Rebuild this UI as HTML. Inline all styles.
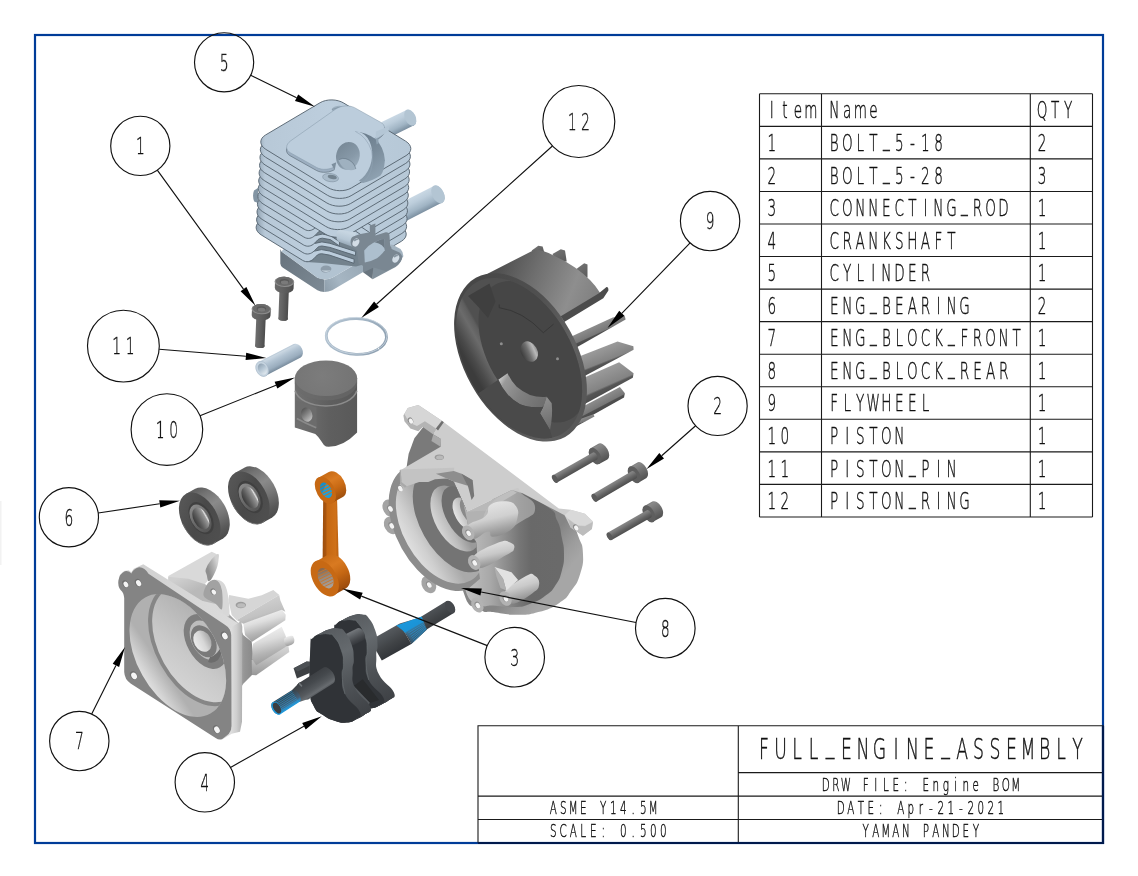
<!DOCTYPE html>
<html lang="en"><head><meta charset="utf-8"><title>FULL_ENGINE_ASSEMBLY - Engine BOM</title>
<style>
html,body{margin:0;padding:0;background:#fff;overflow:hidden}
svg{display:block;will-change:transform}
.t{filter:grayscale(1)}
.t text{font-family:'DejaVu Sans Light','DejaVu Sans','Liberation Sans',sans-serif;font-weight:200;fill:#111}
</style></head><body>
<svg width="1138" height="876" viewBox="0 0 1138 876">
<rect width="1138" height="876" fill="#fff"/>
<defs><linearGradient id="cyP1" gradientUnits="userSpaceOnUse" x1="396.2" y1="114.8" x2="403.8" y2="130.2"><stop offset="0" stop-color="#c9d8e4"/><stop offset="0.3" stop-color="#bccddb"/><stop offset="0.7" stop-color="#a0b4c4"/><stop offset="1" stop-color="#7b8fa0"/></linearGradient><linearGradient id="cyP2" gradientUnits="userSpaceOnUse" x1="418.7" y1="193.8" x2="427.1" y2="210.4"><stop offset="0" stop-color="#c9d8e4"/><stop offset="0.3" stop-color="#bccddb"/><stop offset="0.7" stop-color="#a0b4c4"/><stop offset="1" stop-color="#7b8fa0"/></linearGradient><linearGradient id="cyBL" gradientUnits="userSpaceOnUse" x1="280" y1="255" x2="325" y2="290"><stop offset="0" stop-color="#68747e"/><stop offset="1" stop-color="#7d8a95"/></linearGradient><linearGradient id="cyBR" gradientUnits="userSpaceOnUse" x1="325" y1="290" x2="362" y2="268"><stop offset="0" stop-color="#8f9fac"/><stop offset="0.4" stop-color="#a6b6c3"/><stop offset="1" stop-color="#9aaab7"/></linearGradient><linearGradient id="cyFin" gradientUnits="userSpaceOnUse" x1="260" y1="140" x2="410" y2="150"><stop offset="0" stop-color="#b7c8d7"/><stop offset="0.45" stop-color="#bdcedd"/><stop offset="1" stop-color="#b6c8d7"/></linearGradient><clipPath id="cyFinClip"><path d="M343.8 103.1L405.7 141.2C412.4 145.3 412.5 151.8 406.1 155.6L351.5 187.9C345.0 191.8 334.4 191.6 327.8 187.5L265.9 149.4C259.2 145.3 259.1 138.8 265.5 135.0L320.1 102.7C326.6 98.8 337.2 99.0 343.8 103.1Z" /><path d="M343.4 110.9L405.3 149.0C412.0 153.1 412.1 159.5 405.7 163.4L351.1 195.7C344.6 199.5 334.0 199.3 327.3 195.2L265.4 157.1C258.8 153.0 258.6 146.6 265.1 142.8L319.7 110.4C326.1 106.6 336.8 106.8 343.4 110.9Z" /><path d="M343.0 118.7L404.9 156.8C411.5 160.9 411.7 167.3 405.2 171.1L350.7 203.5C344.2 207.3 333.6 207.1 326.9 203.0L265.0 164.9C258.4 160.8 258.2 154.4 264.7 150.6L319.3 118.2C325.7 114.4 336.4 114.6 343.0 118.7Z" /><path d="M342.6 126.5L404.5 164.6C411.1 168.7 411.3 175.1 404.8 178.9L350.2 211.3C343.8 215.1 333.1 214.9 326.5 210.8L264.6 172.7C258.0 168.6 257.8 162.2 264.3 158.4L318.8 126.0C325.3 122.2 335.9 122.4 342.6 126.5Z" /><path d="M342.2 134.3L404.1 172.4C410.7 176.5 410.9 182.9 404.4 186.7L349.8 219.1C343.4 222.9 332.7 222.7 326.1 218.6L264.2 180.5C257.5 176.4 257.4 170.0 263.8 166.1L318.4 133.8C324.9 130.0 335.5 130.2 342.2 134.3Z" /><path d="M341.7 142.0L403.6 180.1C410.3 184.2 410.4 190.7 404.0 194.5L349.4 226.8C342.9 230.7 332.3 230.5 325.7 226.4L263.8 188.3C257.1 184.2 257.0 177.7 263.4 173.9L318.0 141.6C324.5 137.7 335.1 137.9 341.7 142.0Z" /><path d="M341.3 149.8L403.2 187.9C409.9 192.0 410.0 198.4 403.6 202.3L349.0 234.6C342.5 238.4 331.9 238.2 325.2 234.1L263.3 196.0C256.7 191.9 256.5 185.5 263.0 181.7L317.6 149.3C324.0 145.5 334.7 145.7 341.3 149.8Z" /><path d="M340.9 157.6L402.8 195.7C409.4 199.8 409.6 206.2 403.1 210.0L348.6 242.4C342.1 246.2 331.5 246.0 324.8 241.9L262.9 203.8C256.3 199.7 256.1 193.3 262.6 189.5L317.2 157.1C323.6 153.3 334.3 153.5 340.9 157.6Z" /><path d="M340.5 165.4L402.4 203.5C409.0 207.6 409.2 214.0 402.7 217.8L348.1 250.2C341.7 254.0 331.0 253.8 324.4 249.7L262.5 211.6C255.9 207.5 255.7 201.1 262.2 197.3L316.7 164.9C323.2 161.1 333.8 161.3 340.5 165.4Z" /><path d="M340.1 173.2L402.0 211.3C408.6 215.4 408.8 221.8 402.3 225.6L347.7 258.0C341.3 261.8 330.6 261.6 324.0 257.5L262.1 219.4C255.4 215.3 255.3 208.9 261.7 205.0L316.3 172.7C322.8 168.9 333.4 169.1 340.1 173.2Z" /><path d="M339.6 180.9L401.5 219.0C408.2 223.1 408.3 229.6 401.9 233.4L347.3 265.7C340.8 269.6 330.2 269.4 323.6 265.3L261.7 227.2C255.0 223.1 254.9 216.6 261.3 212.8L315.9 180.5C322.4 176.6 333.0 176.8 339.6 180.9Z" /><path d="M339.2 188.7L401.1 226.8C407.8 230.9 407.9 237.3 401.5 241.2L346.9 273.5C340.4 277.3 329.8 277.1 323.1 273.0L261.2 234.9C254.6 230.8 254.4 224.4 260.9 220.6L315.5 188.2C321.9 184.4 332.6 184.6 339.2 188.7Z" /></clipPath><linearGradient id="cyEdge" gradientUnits="userSpaceOnUse" x1="254" y1="0" x2="265" y2="0"><stop offset="0" stop-color="#5e7080" stop-opacity="0.55"/><stop offset="1" stop-color="#5e7080" stop-opacity="0"/></linearGradient><linearGradient id="cyTube" gradientUnits="userSpaceOnUse" x1="345" y1="232" x2="341" y2="246"><stop offset="0" stop-color="#c6d5e1"/><stop offset="0.5" stop-color="#b5c6d4"/><stop offset="1" stop-color="#8798a7"/></linearGradient><linearGradient id="cySh" gradientUnits="userSpaceOnUse" x1="355" y1="135" x2="385" y2="175"><stop offset="0" stop-color="#687a8a"/><stop offset="0.5" stop-color="#7a8c9b"/><stop offset="1" stop-color="#91a4b4"/></linearGradient><linearGradient id="cyHole" gradientUnits="userSpaceOnUse" x1="338" y1="145" x2="358" y2="170"><stop offset="0" stop-color="#778896"/><stop offset="0.55" stop-color="#8799a8"/><stop offset="1" stop-color="#a0b2c1"/></linearGradient><linearGradient id="fwB1" gradientUnits="userSpaceOnUse" x1="531.7" y1="250.5" x2="536.7" y2="257.5"><stop offset="0" stop-color="#6f6f6f"/><stop offset="1" stop-color="#5a5a5a"/></linearGradient><linearGradient id="fwB2" gradientUnits="userSpaceOnUse" x1="552.5" y1="254.0" x2="559.3" y2="265.8"><stop offset="0" stop-color="#6f6f6f"/><stop offset="1" stop-color="#5a5a5a"/></linearGradient><linearGradient id="fwB3" gradientUnits="userSpaceOnUse" x1="575.0" y1="270.0" x2="582.9" y2="280.8"><stop offset="0" stop-color="#6f6f6f"/><stop offset="1" stop-color="#5a5a5a"/></linearGradient><linearGradient id="fwB4" gradientUnits="userSpaceOnUse" x1="566.0" y1="339.0" x2="571.2" y2="350.4"><stop offset="0" stop-color="#8c8c8c"/><stop offset="0.62" stop-color="#777"/><stop offset="0.7" stop-color="#505050"/><stop offset="1" stop-color="#474747"/></linearGradient><linearGradient id="fwB5" gradientUnits="userSpaceOnUse" x1="574.0" y1="358.6" x2="581.6" y2="377.9"><stop offset="0" stop-color="#9a9a9a"/><stop offset="0.66" stop-color="#838383"/><stop offset="0.74" stop-color="#565656"/><stop offset="1" stop-color="#4b4b4b"/></linearGradient><linearGradient id="fwB6" gradientUnits="userSpaceOnUse" x1="580.0" y1="379.5" x2="589.9" y2="402.0"><stop offset="0" stop-color="#9a9a9a"/><stop offset="0.66" stop-color="#838383"/><stop offset="0.74" stop-color="#565656"/><stop offset="1" stop-color="#4b4b4b"/></linearGradient><linearGradient id="fwB7" gradientUnits="userSpaceOnUse" x1="582.0" y1="407.0" x2="587.8" y2="418.1"><stop offset="0" stop-color="#8c8c8c"/><stop offset="0.62" stop-color="#777"/><stop offset="0.7" stop-color="#505050"/><stop offset="1" stop-color="#474747"/></linearGradient><linearGradient id="fwB8" gradientUnits="userSpaceOnUse" x1="576.0" y1="420.5" x2="578.0" y2="426.1"><stop offset="0" stop-color="#8c8c8c"/><stop offset="0.62" stop-color="#777"/><stop offset="0.7" stop-color="#505050"/><stop offset="1" stop-color="#474747"/></linearGradient><linearGradient id="fwS" gradientUnits="userSpaceOnUse" x1="500" y1="262" x2="596" y2="300"><stop offset="0" stop-color="#4f4f4f"/><stop offset="0.35" stop-color="#6e6e6e"/><stop offset="0.75" stop-color="#8e8e8e"/><stop offset="1" stop-color="#808080"/></linearGradient><linearGradient id="fwRim" gradientUnits="userSpaceOnUse" x1="460" y1="340" x2="585" y2="375"><stop offset="0" stop-color="#474747"/><stop offset="0.5" stop-color="#505050"/><stop offset="0.85" stop-color="#626262"/><stop offset="1" stop-color="#585858"/></linearGradient><clipPath id="fwClip"><ellipse cx="519.1" cy="358.2" rx="53.2" ry="87.1" transform="rotate(-29.3 519.1 358.2)"/></clipPath><linearGradient id="fwWall" gradientUnits="userSpaceOnUse" x1="455.5" y1="341" x2="479.5" y2="327.5"><stop offset="0" stop-color="#3c3c3c"/><stop offset="0.25" stop-color="#4a4a4a"/><stop offset="0.7" stop-color="#6b6b6b"/><stop offset="0.92" stop-color="#5e5e5e"/><stop offset="1" stop-color="#505050"/></linearGradient><linearGradient id="fwLit" gradientUnits="userSpaceOnUse" x1="500" y1="378" x2="545" y2="405"><stop offset="0" stop-color="#c9c9c9"/><stop offset="0.12" stop-color="#9a9a9a"/><stop offset="0.5" stop-color="#808080"/><stop offset="1" stop-color="#6d6d6d"/></linearGradient><linearGradient id="fwV" gradientUnits="userSpaceOnUse" x1="541" y1="400" x2="553" y2="428"><stop offset="0" stop-color="#8f8f8f"/><stop offset="1" stop-color="#6a6a6a"/></linearGradient><linearGradient id="fwHole" gradientUnits="userSpaceOnUse" x1="521.5" y1="355" x2="537" y2="348"><stop offset="0" stop-color="#3a3a3a"/><stop offset="0.45" stop-color="#6f6f6f"/><stop offset="0.8" stop-color="#b9b9b9"/><stop offset="1" stop-color="#8a8a8a"/></linearGradient><linearGradient id="b1s1" gradientUnits="userSpaceOnUse" x1="278.9" y1="303.1" x2="288.3" y2="303.5"><stop offset="0" stop-color="#6e6e6e"/><stop offset="0.35" stop-color="#646464"/><stop offset="0.75" stop-color="#565656"/><stop offset="1" stop-color="#4c4c4c"/></linearGradient><linearGradient id="b1h1" gradientUnits="userSpaceOnUse" x1="274.9" y1="284.7" x2="293.7" y2="285.3"><stop offset="0" stop-color="#6a6a6a"/><stop offset="0.4" stop-color="#626262"/><stop offset="0.8" stop-color="#555"/><stop offset="1" stop-color="#4a4a4a"/></linearGradient><linearGradient id="b1s2" gradientUnits="userSpaceOnUse" x1="255.8" y1="330.4" x2="265.2" y2="330.8"><stop offset="0" stop-color="#6e6e6e"/><stop offset="0.35" stop-color="#646464"/><stop offset="0.75" stop-color="#565656"/><stop offset="1" stop-color="#4c4c4c"/></linearGradient><linearGradient id="b1h2" gradientUnits="userSpaceOnUse" x1="251.9" y1="311.9" x2="270.7" y2="312.7"><stop offset="0" stop-color="#6a6a6a"/><stop offset="0.4" stop-color="#626262"/><stop offset="0.8" stop-color="#555"/><stop offset="1" stop-color="#4a4a4a"/></linearGradient><linearGradient id="b2h3" gradientUnits="userSpaceOnUse" x1="603.5" y1="461.6" x2="594.5" y2="446.0"><stop offset="0" stop-color="#525252"/><stop offset="0.35" stop-color="#666"/><stop offset="0.7" stop-color="#7c7c7c"/><stop offset="0.92" stop-color="#8a8a8a"/><stop offset="1" stop-color="#7a7a7a"/></linearGradient><linearGradient id="b2s3" gradientUnits="userSpaceOnUse" x1="577.1" y1="471.1" x2="573.0" y2="463.9"><stop offset="0" stop-color="#4e4e4e"/><stop offset="0.4" stop-color="#636363"/><stop offset="0.8" stop-color="#7e7e7e"/><stop offset="1" stop-color="#868686"/></linearGradient><linearGradient id="b2h4" gradientUnits="userSpaceOnUse" x1="642.6" y1="480.2" x2="633.6" y2="464.6"><stop offset="0" stop-color="#525252"/><stop offset="0.35" stop-color="#666"/><stop offset="0.7" stop-color="#7c7c7c"/><stop offset="0.92" stop-color="#8a8a8a"/><stop offset="1" stop-color="#7a7a7a"/></linearGradient><linearGradient id="b2s4" gradientUnits="userSpaceOnUse" x1="616.5" y1="489.8" x2="612.3" y2="482.7"><stop offset="0" stop-color="#4e4e4e"/><stop offset="0.4" stop-color="#636363"/><stop offset="0.8" stop-color="#7e7e7e"/><stop offset="1" stop-color="#868686"/></linearGradient><linearGradient id="b2h5" gradientUnits="userSpaceOnUse" x1="657.4" y1="519.4" x2="648.4" y2="503.8"><stop offset="0" stop-color="#525252"/><stop offset="0.35" stop-color="#666"/><stop offset="0.7" stop-color="#7c7c7c"/><stop offset="0.92" stop-color="#8a8a8a"/><stop offset="1" stop-color="#7a7a7a"/></linearGradient><linearGradient id="b2s5" gradientUnits="userSpaceOnUse" x1="631.4" y1="528.7" x2="627.2" y2="521.5"><stop offset="0" stop-color="#4e4e4e"/><stop offset="0.4" stop-color="#636363"/><stop offset="0.8" stop-color="#7e7e7e"/><stop offset="1" stop-color="#868686"/></linearGradient><linearGradient id="prG" gradientUnits="userSpaceOnUse" x1="325" y1="318" x2="388" y2="356"><stop offset="0" stop-color="#b4c4d2"/><stop offset="0.5" stop-color="#a2b4c4"/><stop offset="1" stop-color="#8799aa"/></linearGradient><linearGradient id="ppG" gradientUnits="userSpaceOnUse" x1="283.2" y1="366.7" x2="276.2" y2="353.0"><stop offset="0" stop-color="#788b9c"/><stop offset="0.25" stop-color="#9aadbe"/><stop offset="0.65" stop-color="#b3c4d3"/><stop offset="0.9" stop-color="#cad7e2"/><stop offset="1" stop-color="#b8c8d6"/></linearGradient><linearGradient id="ppH" gradientUnits="userSpaceOnUse" x1="258" y1="364" x2="266" y2="374"><stop offset="0" stop-color="#8c9eae"/><stop offset="0.5" stop-color="#b4c5d3"/><stop offset="1" stop-color="#e2eaf0"/></linearGradient><linearGradient id="piB" gradientUnits="userSpaceOnUse" x1="294.8" y1="0" x2="357.1" y2="0"><stop offset="0" stop-color="#707070"/><stop offset="0.3" stop-color="#686868"/><stop offset="0.55" stop-color="#5f5f5f"/><stop offset="1" stop-color="#595959"/></linearGradient><linearGradient id="piH" gradientUnits="userSpaceOnUse" x1="301.5" y1="409" x2="312" y2="420"><stop offset="0" stop-color="#505050"/><stop offset="0.45" stop-color="#808080"/><stop offset="1" stop-color="#c4c4c4"/></linearGradient><radialGradient id="piT" gradientUnits="userSpaceOnUse" cx="322" cy="376" r="34" ><stop offset="0" stop-color="#7c7c7c"/><stop offset="1" stop-color="#747474"/></radialGradient><linearGradient id="brO2" gradientUnits="userSpaceOnUse" x1="234.9" y1="472.9" x2="262.7" y2="522.7"><stop offset="0" stop-color="#5e5e5e"/><stop offset="0.15" stop-color="#737373"/><stop offset="0.38" stop-color="#8a8a8a"/><stop offset="0.6" stop-color="#767676"/><stop offset="0.85" stop-color="#585858"/><stop offset="1" stop-color="#4c4c4c"/></linearGradient><linearGradient id="brF2" gradientUnits="userSpaceOnUse" x1="228.8" y1="489.8" x2="268.8" y2="505.8"><stop offset="0" stop-color="#555"/><stop offset="0.5" stop-color="#494949"/><stop offset="1" stop-color="#4e4e4e"/></linearGradient><linearGradient id="brI2" gradientUnits="userSpaceOnUse" x1="241.2" y1="485.0" x2="259.2" y2="509.0"><stop offset="0" stop-color="#8a8a8a"/><stop offset="0.5" stop-color="#6a6a6a"/><stop offset="1" stop-color="#555"/></linearGradient><linearGradient id="brB2" gradientUnits="userSpaceOnUse" x1="243.3" y1="500.9" x2="255.9" y2="493.8"><stop offset="0" stop-color="#383838"/><stop offset="0.35" stop-color="#5c5c5c"/><stop offset="0.62" stop-color="#7e7e7e"/><stop offset="0.82" stop-color="#9a9a9a"/><stop offset="0.9" stop-color="#e0e0e0"/><stop offset="1" stop-color="#8a8a8a"/></linearGradient><linearGradient id="brO1" gradientUnits="userSpaceOnUse" x1="185.8" y1="494.0" x2="213.6" y2="543.8"><stop offset="0" stop-color="#5e5e5e"/><stop offset="0.15" stop-color="#737373"/><stop offset="0.38" stop-color="#8a8a8a"/><stop offset="0.6" stop-color="#767676"/><stop offset="0.85" stop-color="#585858"/><stop offset="1" stop-color="#4c4c4c"/></linearGradient><linearGradient id="brF1" gradientUnits="userSpaceOnUse" x1="179.7" y1="510.9" x2="219.7" y2="526.9"><stop offset="0" stop-color="#555"/><stop offset="0.5" stop-color="#494949"/><stop offset="1" stop-color="#4e4e4e"/></linearGradient><linearGradient id="brI1" gradientUnits="userSpaceOnUse" x1="192.1" y1="506.1" x2="210.1" y2="530.1"><stop offset="0" stop-color="#8a8a8a"/><stop offset="0.5" stop-color="#6a6a6a"/><stop offset="1" stop-color="#555"/></linearGradient><linearGradient id="brB1" gradientUnits="userSpaceOnUse" x1="194.2" y1="522.0" x2="206.8" y2="514.9"><stop offset="0" stop-color="#383838"/><stop offset="0.35" stop-color="#5c5c5c"/><stop offset="0.62" stop-color="#7e7e7e"/><stop offset="0.82" stop-color="#9a9a9a"/><stop offset="0.9" stop-color="#e0e0e0"/><stop offset="1" stop-color="#8a8a8a"/></linearGradient><linearGradient id="ebRim" gradientUnits="userSpaceOnUse" x1="556.1499081123654" y1="531.518771331058" x2="582.4035179837227" y2="552.5216592281439"><stop offset="0" stop-color="#858585"/><stop offset="0.6" stop-color="#9c9c9c"/><stop offset="1" stop-color="#a6a6a6"/></linearGradient><linearGradient id="ebFa" gradientUnits="userSpaceOnUse" x1="461.63691257547913" y1="0" x2="577.1527960094513" y2="0"><stop offset="0" stop-color="#c4c4c4"/><stop offset="0.25" stop-color="#a8a8a8"/><stop offset="0.5" stop-color="#767676"/><stop offset="0.6" stop-color="#696969"/><stop offset="0.85" stop-color="#6a6a6a"/><stop offset="1" stop-color="#707070"/></linearGradient><clipPath id="ebClip"><path d="M390.8 469.8L401.3 469.8L414.4 471.1L435.4 473.8L453.8 481.6L464.3 505.3L466.9 511.8L467.4 521.5L469.0 531.5L476.1 542.0L477.9 563.0L480.0 578.8L461.6 594.5L438.0 599.8L380.3 594.5L380.3 473.8Z"/></clipPath><linearGradient id="ebW" gradientUnits="userSpaceOnUse" x1="396" y1="540" x2="432" y2="520"><stop offset="0" stop-color="#e9e9e9"/><stop offset="0.5" stop-color="#cfcfcf"/><stop offset="1" stop-color="#a9a9a9"/></linearGradient><linearGradient id="ebW2" gradientUnits="userSpaceOnUse" x1="428" y1="520" x2="452" y2="508"><stop offset="0" stop-color="#e2e2e2"/><stop offset="0.6" stop-color="#bdbdbd"/><stop offset="1" stop-color="#9a9a9a"/></linearGradient><linearGradient id="ebW3" gradientUnits="userSpaceOnUse" x1="450" y1="505" x2="466" y2="498"><stop offset="0" stop-color="#e6e6e6"/><stop offset="1" stop-color="#a2a2a2"/></linearGradient><linearGradient id="ebB1" gradientUnits="userSpaceOnUse" x1="490.51588343397214" y1="502.63980047256496" x2="498.39196639537937" y2="536.7694933053294"><stop offset="0" stop-color="#e4e4e4"/><stop offset="0.45" stop-color="#d0d0d0"/><stop offset="0.8" stop-color="#a2a2a2"/><stop offset="1" stop-color="#8c8c8c"/></linearGradient><linearGradient id="ebB2" gradientUnits="userSpaceOnUse" x1="490.51588343397214" y1="542.020215279601" x2="495.76660540824366" y2="565.6484641638225"><stop offset="0" stop-color="#e2e2e2"/><stop offset="0.5" stop-color="#c8c8c8"/><stop offset="1" stop-color="#8e8e8e"/></linearGradient><linearGradient id="ebB3" gradientUnits="userSpaceOnUse" x1="516.7694933053294" y1="573.5245471252297" x2="524.6455762667367" y2="599.7781569965871"><stop offset="0" stop-color="#e6e6e6"/><stop offset="0.5" stop-color="#cacaca"/><stop offset="1" stop-color="#909090"/></linearGradient><linearGradient id="efBell" gradientUnits="userSpaceOnUse" x1="238.33333333333331" y1="0" x2="255.0" y2="0"><stop offset="0" stop-color="#a6a6a6"/><stop offset="0.4" stop-color="#949494"/><stop offset="1" stop-color="#878787"/></linearGradient><linearGradient id="efLow" gradientUnits="userSpaceOnUse" x1="0" y1="645.0" x2="0" y2="675.0"><stop offset="0" stop-color="#d9d9d9"/><stop offset="0.5" stop-color="#bdbdbd"/><stop offset="1" stop-color="#989898"/></linearGradient><linearGradient id="efC2" gradientUnits="userSpaceOnUse" x1="265.0" y1="628.3333333333334" x2="273.3333333333333" y2="661.6666666666666"><stop offset="0" stop-color="#f2f2f2"/><stop offset="0.35" stop-color="#dcdcdc"/><stop offset="0.7" stop-color="#b4b4b4"/><stop offset="1" stop-color="#9a9a9a"/></linearGradient><linearGradient id="efPin" gradientUnits="userSpaceOnUse" x1="288.3333333333333" y1="635.8333333333334" x2="290.8333333333333" y2="645.0"><stop offset="0" stop-color="#f0f0f0"/><stop offset="0.5" stop-color="#d0d0d0"/><stop offset="1" stop-color="#a0a0a0"/></linearGradient><linearGradient id="efC1" gradientUnits="userSpaceOnUse" x1="261.6666666666667" y1="611.6666666666666" x2="269.1666666666667" y2="638.3333333333334"><stop offset="0" stop-color="#f4f4f4"/><stop offset="0.35" stop-color="#dedede"/><stop offset="0.7" stop-color="#b6b6b6"/><stop offset="1" stop-color="#9c9c9c"/></linearGradient><linearGradient id="efTop" gradientUnits="userSpaceOnUse" x1="258.3333333333333" y1="600.0" x2="265.0" y2="623.3333333333334"><stop offset="0" stop-color="#d0d0d0"/><stop offset="0.6" stop-color="#c2c2c2"/><stop offset="1" stop-color="#a8a8a8"/></linearGradient><linearGradient id="efCv" gradientUnits="userSpaceOnUse" x1="181.66666666666666" y1="576.6666666666666" x2="190.0" y2="593.3333333333334"><stop offset="0" stop-color="#cfcfcf"/><stop offset="1" stop-color="#b9b9b9"/></linearGradient><linearGradient id="efFin" gradientUnits="userSpaceOnUse" x1="207.5" y1="568.3333333333334" x2="218.0" y2="565.0"><stop offset="0" stop-color="#8f8f8f"/><stop offset="0.6" stop-color="#b5b5b5"/><stop offset="1" stop-color="#d2d2d2"/></linearGradient><linearGradient id="efTb" gradientUnits="userSpaceOnUse" x1="143.33333333333334" y1="565.0" x2="240.0" y2="625.0"><stop offset="0" stop-color="#d2d2d2"/><stop offset="1" stop-color="#dcdcdc"/></linearGradient><linearGradient id="efRb" gradientUnits="userSpaceOnUse" x1="230.83333333333331" y1="0" x2="242.0" y2="0"><stop offset="0" stop-color="#dedede"/><stop offset="0.5" stop-color="#cfcfcf"/><stop offset="1" stop-color="#b2b2b2"/></linearGradient><clipPath id="efClip"><path d="M142.39 675.37A40.61 65.50 -29.30 1 0 213.21 635.63A40.61 65.50 -29.30 1 0 142.39 675.37Z" /></clipPath><linearGradient id="efW" gradientUnits="userSpaceOnUse" x1="128" y1="668" x2="152" y2="652"><stop offset="0" stop-color="#ededed"/><stop offset="0.45" stop-color="#d4d4d4"/><stop offset="1" stop-color="#b0b0b0"/></linearGradient><linearGradient id="efCone" gradientUnits="userSpaceOnUse" x1="150" y1="700" x2="222" y2="610"><stop offset="0" stop-color="#dedede"/><stop offset="0.5" stop-color="#c9c9c9"/><stop offset="1" stop-color="#a9a9a9"/></linearGradient><linearGradient id="efBore" gradientUnits="userSpaceOnUse" x1="195" y1="645" x2="211" y2="637"><stop offset="0" stop-color="#ececec"/><stop offset="0.5" stop-color="#d6d6d6"/><stop offset="1" stop-color="#a0a0a0"/></linearGradient><linearGradient id="crS" gradientUnits="userSpaceOnUse" x1="322" y1="0" x2="339" y2="0"><stop offset="0" stop-color="#9a4c0c"/><stop offset="0.22" stop-color="#a9550f"/><stop offset="0.3" stop-color="#c56813"/><stop offset="0.8" stop-color="#cf7119"/><stop offset="1" stop-color="#b55d10"/></linearGradient><linearGradient id="crE1" gradientUnits="userSpaceOnUse" x1="323.8" y1="475.2" x2="337.5" y2="499.6"><stop offset="0" stop-color="#c96c16"/><stop offset="0.3" stop-color="#da7b22"/><stop offset="0.6" stop-color="#c96a14"/><stop offset="1" stop-color="#a0500d"/></linearGradient><clipPath id="crC1"><path d="M321.52 492.82A5.14 8.29 -29.30 1 0 330.48 487.78A5.14 8.29 -29.30 1 0 321.52 492.82Z" /></clipPath><linearGradient id="crE2" gradientUnits="userSpaceOnUse" x1="321.6" y1="558.4" x2="340.2" y2="591.5"><stop offset="0" stop-color="#c96c16"/><stop offset="0.3" stop-color="#d97a21"/><stop offset="0.6" stop-color="#c56713"/><stop offset="1" stop-color="#99490b"/></linearGradient><linearGradient id="crB2" gradientUnits="userSpaceOnUse" x1="321.6" y1="568.2" x2="329.6" y2="588.2"><stop offset="0" stop-color="#85654a"/><stop offset="0.45" stop-color="#958a80"/><stop offset="1" stop-color="#aaa39c"/></linearGradient><clipPath id="crC2"><path d="M319.64 581.54A6.83 11.02 -29.30 1 0 331.56 574.86A6.83 11.02 -29.30 1 0 319.64 581.54Z" /></clipPath><linearGradient id="ckR" gradientUnits="userSpaceOnUse" x1="407.2" y1="618.6" x2="419.0" y2="638.8"><stop offset="0" stop-color="#565a5e"/><stop offset="0.25" stop-color="#4d5155"/><stop offset="0.6" stop-color="#404346"/><stop offset="1" stop-color="#33363a"/></linearGradient><linearGradient id="ckBl" gradientUnits="userSpaceOnUse" x1="408.6" y1="618.4" x2="420.3" y2="638.7"><stop offset="0" stop-color="#1b98dc"/><stop offset="0.42" stop-color="#1b93d6"/><stop offset="0.5" stop-color="#3c6f90"/><stop offset="1" stop-color="#3a5468"/></linearGradient><linearGradient id="ckW2" gradientUnits="userSpaceOnUse" x1="352.3" y1="613.9" x2="393.4" y2="697.7"><stop offset="0" stop-color="#575b5f"/><stop offset="0.3" stop-color="#656a6e"/><stop offset="0.65" stop-color="#4e5256"/><stop offset="1" stop-color="#3f4246"/></linearGradient><path id="ckFace2" d="M334.2 631.9C334.9 618.7 333.8 627.6 336.3 624.5C338.8 621.4 339.1 621.5 343.4 620.3C347.7 619.1 348.4 619.1 352.3 619.9C356.2 620.7 354.8 619.0 358.2 623.3C361.6 627.6 362.5 628.7 364.9 635.9C367.3 643.1 366.8 643.2 367.1 650.2C367.4 657.2 365.5 654.2 365.9 662.1C366.3 670.0 363.9 670.4 368.6 679.9C373.3 689.4 380.6 691.0 383.4 697.7C386.2 704.4 382.5 702.2 379.0 705.1C375.5 708.0 375.6 708.0 370.1 708.4C364.6 708.8 364.5 708.7 358.2 706.6C351.9 704.5 351.8 704.6 346.3 700.7C340.8 696.8 340.8 698.9 337.4 691.8C334.0 684.7 334.6 690.0 333.7 674.0C332.8 658.0 333.5 645.1 334.2 631.9Z"/><linearGradient id="ckP" gradientUnits="userSpaceOnUse" x1="348.7" y1="632.7" x2="354.7" y2="644.6"><stop offset="0" stop-color="#74787c"/><stop offset="0.3" stop-color="#5f6367"/><stop offset="0.7" stop-color="#45484c"/><stop offset="1" stop-color="#35383c"/></linearGradient><linearGradient id="ckW1" gradientUnits="userSpaceOnUse" x1="328.6" y1="628.0" x2="369.7" y2="711.8"><stop offset="0" stop-color="#575b5f"/><stop offset="0.3" stop-color="#656a6e"/><stop offset="0.65" stop-color="#4e5256"/><stop offset="1" stop-color="#3f4246"/></linearGradient><path id="ckFace1" d="M310.5 646.0C311.2 632.8 310.1 641.7 312.6 638.6C315.1 635.5 315.4 635.6 319.7 634.4C324.0 633.2 324.7 633.2 328.6 634.0C332.5 634.8 331.1 633.1 334.5 637.4C337.9 641.7 338.8 642.8 341.2 650.0C343.6 657.2 343.1 657.3 343.4 664.3C343.7 671.3 341.8 668.3 342.2 676.2C342.6 684.1 340.2 684.5 344.9 694.0C349.6 703.5 356.9 705.1 359.7 711.8C362.5 718.5 358.8 716.3 355.3 719.2C351.8 722.1 351.9 722.1 346.4 722.5C340.9 722.9 340.8 722.8 334.5 720.7C328.2 718.6 328.1 718.7 322.6 714.8C317.1 710.9 317.1 713.0 313.7 705.9C310.3 698.8 310.9 704.1 310.0 688.1C309.1 672.1 309.8 659.2 310.5 646.0Z"/><linearGradient id="ckJ" gradientUnits="userSpaceOnUse" x1="297.3" y1="684.0" x2="307.3" y2="699.8"><stop offset="0" stop-color="#3d4044"/><stop offset="0.35" stop-color="#45494d"/><stop offset="0.7" stop-color="#565a5e"/><stop offset="0.9" stop-color="#686c70"/><stop offset="1" stop-color="#575b5f"/></linearGradient><linearGradient id="ckSp" gradientUnits="userSpaceOnUse" x1="282.2" y1="696.2" x2="289.8" y2="708.2"><stop offset="0" stop-color="#33414c"/><stop offset="0.3" stop-color="#3c4d5a"/><stop offset="0.7" stop-color="#45617a"/><stop offset="0.9" stop-color="#2c8fc9"/><stop offset="1" stop-color="#1c9ade"/></linearGradient></defs>
<rect x="0" y="501" width="1.5" height="64" fill="#f2f2f2"/>
<rect x="35" y="35" width="1068" height="808" fill="none" stroke="#003c98" stroke-width="2.2"/>
<path d="M759.5 93.80H1092.5 M759.5 126.35H1092.5 M759.5 158.90H1092.5 M759.5 191.45H1092.5 M759.5 224.00H1092.5 M759.5 256.55H1092.5 M759.5 289.10H1092.5 M759.5 321.65H1092.5 M759.5 354.20H1092.5 M759.5 386.75H1092.5 M759.5 419.30H1092.5 M759.5 451.85H1092.5 M759.5 484.40H1092.5 M759.5 516.95H1092.5 M759.5 93.8V516.95 M821.5 93.8V516.95 M1030.3 93.8V516.95 M1092.5 93.8V516.95" fill="none" stroke="#1a1a1a" stroke-width="1.1"/>
<g class="t">
<text transform="scale(0.6,1)" x="1286.36 1308.07 1329.79 1351.51" y="118.50" dy="0.00 0.00 0.00 0.00" font-size="22.63" text-anchor="middle" stroke="#111" stroke-width="0.4">Item</text>
<text transform="scale(0.6,1)" x="1390.36 1412.08 1433.79 1455.51" y="118.50" dy="0.00 0.00 0.00 0.00" font-size="22.63" text-anchor="middle" stroke="#111" stroke-width="0.4">Name</text>
<text transform="scale(0.6,1)" x="1736.86 1758.58 1780.29" y="118.50" dy="0.00 0.00 0.00" font-size="22.63" text-anchor="middle" stroke="#111" stroke-width="0.4">QTY</text>
<text transform="scale(0.6,1)" x="1286.36" y="151.05" dy="0.00" font-size="22.63" text-anchor="middle" stroke="#111" stroke-width="0.4">1</text>
<text transform="scale(0.6,1)" x="1390.36 1412.08 1433.79 1455.51 1477.23 1498.94 1520.66 1542.38 1564.09" y="151.05" dy="0.00 0.00 0.00 0.00 -5.94 5.94 0.00 0.00 0.00" font-size="22.63" text-anchor="middle" stroke="#111" stroke-width="0.4">BOLT_5-18</text>
<text transform="scale(0.6,1)" x="1736.86" y="151.05" dy="0.00" font-size="22.63" text-anchor="middle" stroke="#111" stroke-width="0.4">2</text>
<text transform="scale(0.6,1)" x="1286.36" y="183.60" dy="0.00" font-size="22.63" text-anchor="middle" stroke="#111" stroke-width="0.4">2</text>
<text transform="scale(0.6,1)" x="1390.36 1412.08 1433.79 1455.51 1477.23 1498.94 1520.66 1542.38 1564.09" y="183.60" dy="0.00 0.00 0.00 0.00 -5.94 5.94 0.00 0.00 0.00" font-size="22.63" text-anchor="middle" stroke="#111" stroke-width="0.4">BOLT_5-28</text>
<text transform="scale(0.6,1)" x="1736.86" y="183.60" dy="0.00" font-size="22.63" text-anchor="middle" stroke="#111" stroke-width="0.4">3</text>
<text transform="scale(0.6,1)" x="1286.36" y="216.15" dy="0.00" font-size="22.63" text-anchor="middle" stroke="#111" stroke-width="0.4">3</text>
<text transform="scale(0.6,1)" x="1390.36 1412.08 1433.79 1455.51 1477.23 1498.94 1520.66 1542.38 1564.09 1585.81 1607.53 1629.24 1650.96 1672.68" y="216.15" dy="0.00 0.00 0.00 0.00 0.00 0.00 0.00 0.00 0.00 0.00 -5.94 5.94 0.00 0.00" font-size="22.63" text-anchor="middle" stroke="#111" stroke-width="0.4">CONNECTING_ROD</text>
<text transform="scale(0.6,1)" x="1736.86" y="216.15" dy="0.00" font-size="22.63" text-anchor="middle" stroke="#111" stroke-width="0.4">1</text>
<text transform="scale(0.6,1)" x="1286.36" y="248.70" dy="0.00" font-size="22.63" text-anchor="middle" stroke="#111" stroke-width="0.4">4</text>
<text transform="scale(0.6,1)" x="1390.36 1412.08 1433.79 1455.51 1477.23 1498.94 1520.66 1542.38 1564.09 1585.81" y="248.70" dy="0.00 0.00 0.00 0.00 0.00 0.00 0.00 0.00 0.00 0.00" font-size="22.63" text-anchor="middle" stroke="#111" stroke-width="0.4">CRANKSHAFT</text>
<text transform="scale(0.6,1)" x="1736.86" y="248.70" dy="0.00" font-size="22.63" text-anchor="middle" stroke="#111" stroke-width="0.4">1</text>
<text transform="scale(0.6,1)" x="1286.36" y="281.25" dy="0.00" font-size="22.63" text-anchor="middle" stroke="#111" stroke-width="0.4">5</text>
<text transform="scale(0.6,1)" x="1390.36 1412.08 1433.79 1455.51 1477.23 1498.94 1520.66 1542.38" y="281.25" dy="0.00 0.00 0.00 0.00 0.00 0.00 0.00 0.00" font-size="22.63" text-anchor="middle" stroke="#111" stroke-width="0.4">CYLINDER</text>
<text transform="scale(0.6,1)" x="1736.86" y="281.25" dy="0.00" font-size="22.63" text-anchor="middle" stroke="#111" stroke-width="0.4">1</text>
<text transform="scale(0.6,1)" x="1286.36" y="313.80" dy="0.00" font-size="22.63" text-anchor="middle" stroke="#111" stroke-width="0.4">6</text>
<text transform="scale(0.6,1)" x="1390.36 1412.08 1433.79 1455.51 1477.23 1498.94 1520.66 1542.38 1564.09 1585.81 1607.53" y="313.80" dy="0.00 0.00 0.00 -5.94 5.94 0.00 0.00 0.00 0.00 0.00 0.00" font-size="22.63" text-anchor="middle" stroke="#111" stroke-width="0.4">ENG_BEARING</text>
<text transform="scale(0.6,1)" x="1736.86" y="313.80" dy="0.00" font-size="22.63" text-anchor="middle" stroke="#111" stroke-width="0.4">2</text>
<text transform="scale(0.6,1)" x="1286.36" y="346.35" dy="0.00" font-size="22.63" text-anchor="middle" stroke="#111" stroke-width="0.4">7</text>
<text transform="scale(0.6,1)" x="1390.36 1412.08 1433.79 1455.51 1477.23 1498.94 1520.66 1542.38 1564.09 1585.81 1607.53 1629.24 1650.96 1672.68 1694.39" y="346.35" dy="0.00 0.00 0.00 -5.94 5.94 0.00 0.00 0.00 0.00 -5.94 5.94 0.00 0.00 0.00 0.00" font-size="22.63" text-anchor="middle" stroke="#111" stroke-width="0.4">ENG_BLOCK_FRONT</text>
<text transform="scale(0.6,1)" x="1736.86" y="346.35" dy="0.00" font-size="22.63" text-anchor="middle" stroke="#111" stroke-width="0.4">1</text>
<text transform="scale(0.6,1)" x="1286.36" y="378.90" dy="0.00" font-size="22.63" text-anchor="middle" stroke="#111" stroke-width="0.4">8</text>
<text transform="scale(0.6,1)" x="1390.36 1412.08 1433.79 1455.51 1477.23 1498.94 1520.66 1542.38 1564.09 1585.81 1607.53 1629.24 1650.96 1672.68" y="378.90" dy="0.00 0.00 0.00 -5.94 5.94 0.00 0.00 0.00 0.00 -5.94 5.94 0.00 0.00 0.00" font-size="22.63" text-anchor="middle" stroke="#111" stroke-width="0.4">ENG_BLOCK_REAR</text>
<text transform="scale(0.6,1)" x="1736.86" y="378.90" dy="0.00" font-size="22.63" text-anchor="middle" stroke="#111" stroke-width="0.4">1</text>
<text transform="scale(0.6,1)" x="1286.36" y="411.45" dy="0.00" font-size="22.63" text-anchor="middle" stroke="#111" stroke-width="0.4">9</text>
<text transform="scale(0.6,1)" x="1390.36 1412.08 1433.79 1455.51 1477.23 1498.94 1520.66 1542.38" y="411.45" dy="0.00 0.00 0.00 0.00 0.00 0.00 0.00 0.00" font-size="22.63" text-anchor="middle" stroke="#111" stroke-width="0.4">FLYWHEEL</text>
<text transform="scale(0.6,1)" x="1736.86" y="411.45" dy="0.00" font-size="22.63" text-anchor="middle" stroke="#111" stroke-width="0.4">1</text>
<text transform="scale(0.6,1)" x="1286.36 1308.07" y="444.00" dy="0.00 0.00" font-size="22.63" text-anchor="middle" stroke="#111" stroke-width="0.4">10</text>
<text transform="scale(0.6,1)" x="1390.36 1412.08 1433.79 1455.51 1477.23 1498.94" y="444.00" dy="0.00 0.00 0.00 0.00 0.00 0.00" font-size="22.63" text-anchor="middle" stroke="#111" stroke-width="0.4">PISTON</text>
<text transform="scale(0.6,1)" x="1736.86" y="444.00" dy="0.00" font-size="22.63" text-anchor="middle" stroke="#111" stroke-width="0.4">1</text>
<text transform="scale(0.6,1)" x="1286.36 1308.07" y="476.55" dy="0.00 0.00" font-size="22.63" text-anchor="middle" stroke="#111" stroke-width="0.4">11</text>
<text transform="scale(0.6,1)" x="1390.36 1412.08 1433.79 1455.51 1477.23 1498.94 1520.66 1542.38 1564.09 1585.81" y="476.55" dy="0.00 0.00 0.00 0.00 0.00 0.00 -5.94 5.94 0.00 0.00" font-size="22.63" text-anchor="middle" stroke="#111" stroke-width="0.4">PISTON_PIN</text>
<text transform="scale(0.6,1)" x="1736.86" y="476.55" dy="0.00" font-size="22.63" text-anchor="middle" stroke="#111" stroke-width="0.4">1</text>
<text transform="scale(0.6,1)" x="1286.36 1308.07" y="509.10" dy="0.00 0.00" font-size="22.63" text-anchor="middle" stroke="#111" stroke-width="0.4">12</text>
<text transform="scale(0.6,1)" x="1390.36 1412.08 1433.79 1455.51 1477.23 1498.94 1520.66 1542.38 1564.09 1585.81 1607.53" y="509.10" dy="0.00 0.00 0.00 0.00 0.00 0.00 -5.94 5.94 0.00 0.00 0.00" font-size="22.63" text-anchor="middle" stroke="#111" stroke-width="0.4">PISTON_RING</text>
<text transform="scale(0.6,1)" x="1736.86" y="509.10" dy="0.00" font-size="22.63" text-anchor="middle" stroke="#111" stroke-width="0.4">1</text>
</g>
<path d="M478 842.8V725.7H1103V842.8 M738.3 725.7V842.8 M738.3 772.6H1103 M478 796.1H1103 M478 819.5H1103" fill="none" stroke="#1a1a1a" stroke-width="1.1"/>
<path d="M478 843H1103V725.7" fill="none" stroke="#001a4d" stroke-width="2.2"/>
<g class="t">
<text transform="scale(0.6,1)" x="1273.42 1300.92 1328.42 1355.92 1383.42 1410.92 1438.42 1465.92 1493.42 1520.92 1548.42 1575.92 1603.42 1630.92 1658.42 1685.92 1713.42 1740.92 1768.42 1795.92" y="759.40" dy="0.00 0.00 0.00 0.00 -7.56 7.56 0.00 0.00 0.00 0.00 0.00 -7.56 7.56 0.00 0.00 0.00 0.00 0.00 0.00 0.00" font-size="28.81" text-anchor="middle" stroke="#111" stroke-width="0.45">FULL_ENGINE_ASSEMBLY</text>
<text transform="scale(0.6,1)" x="1376.33 1393.00 1409.67 1426.33 1443.00 1459.67 1476.33 1493.00 1509.67 1526.33 1543.00 1559.67 1576.33 1593.00 1609.67 1626.33 1643.00 1659.67 1676.33 1693.00" y="790.60" dy="0.00 0.00 0.00 0.00 0.00 0.00 0.00 0.00 0.00 0.00 0.00 0.00 0.00 0.00 0.00 0.00 0.00 0.00 0.00 0.00" font-size="17.28" text-anchor="middle" stroke="#111" stroke-width="0.45">DRW FILE: Engine BOM</text>
<text transform="scale(0.6,1)" x="1401.33 1418.00 1434.67 1451.33 1468.00 1484.67 1501.33 1518.00 1534.67 1551.33 1568.00 1584.67 1601.33 1618.00 1634.67 1651.33 1668.00" y="814.10" dy="0.00 0.00 0.00 0.00 0.00 0.00 0.00 0.00 0.00 0.00 0.00 0.00 0.00 0.00 0.00 0.00 0.00" font-size="17.28" text-anchor="middle" stroke="#111" stroke-width="0.45">DATE: Apr-21-2021</text>
<text transform="scale(0.6,1)" x="1443.00 1459.67 1476.33 1493.00 1509.67 1526.33 1543.00 1559.67 1576.33 1593.00 1609.67 1626.33" y="837.40" dy="0.00 0.00 0.00 0.00 0.00 0.00 0.00 0.00 0.00 0.00 0.00 0.00" font-size="17.28" text-anchor="middle" stroke="#111" stroke-width="0.45">YAMAN PANDEY</text>
<text transform="scale(0.6,1)" x="922.00 938.67 955.33 972.00 988.67 1005.33 1022.00 1038.67 1055.33 1072.00 1088.67" y="814.10" dy="0.00 0.00 0.00 0.00 0.00 0.00 0.00 0.00 0.00 0.00 0.00" font-size="17.28" text-anchor="middle" stroke="#111" stroke-width="0.45">ASME Y14.5M</text>
<text transform="scale(0.6,1)" x="922.00 938.67 955.33 972.00 988.67 1005.33 1022.00 1038.67 1055.33 1072.00 1088.67 1105.33" y="837.40" dy="0.00 0.00 0.00 0.00 0.00 0.00 0.00 0.00 0.00 0.00 0.00 0.00" font-size="17.28" text-anchor="middle" stroke="#111" stroke-width="0.45">SCALE: 0.500</text>
</g>
<path d="M389.8 137.2L414.1 125.3A5.3 8.6 -26.1 0 0 406.5 109.9L382.2 121.8A5.3 8.6 -26.1 0 0 389.8 137.2Z" fill="url(#cyP1)"/><path d="M405.51 119.95A5.33 8.60 -26.09 1 0 415.09 115.25A5.33 8.60 -26.09 1 0 405.51 119.95Z" fill="#b3c5d3"/><path d="M406.2 220.9L442.2 202.6A5.8 9.3 -26.9 0 0 433.8 186.0L397.8 204.3A5.8 9.3 -26.9 0 0 406.2 220.9Z" fill="url(#cyP2)"/><path d="M432.86 196.91A5.77 9.30 -26.95 1 0 443.14 191.69A5.77 9.30 -26.95 1 0 432.86 196.91Z" fill="#b3c5d3"/><path d="M258 188 L254 190.5 Q252 196 254.2 201.5 L258 203Z" fill="#8395a4"/><path d="M280.3 249 L280.3 263.4 Q280.6 266 282.6 267.4 L317.4 290.2 Q320.5 291.8 324.3 292 L324.3 279.4 L317.4 277.7 L281.4 251.4Z" fill="url(#cyBL)"/><path d="M324.3 279.4 L324.3 292 Q328.5 292 332.2 290.2 L364 271.5 L364 258 L352.8 265.7 L332.2 277.7 Q328 279.6 324.3 279.4Z" fill="url(#cyBR)"/><path d="M281.4 251.4 L317.4 277.7 Q324.3 281 332.2 277.7 L352.8 265.7 L366 256 L350 236 L296 236Z" fill="#b2c3d1"/><path d="M320.61 269.38A5.40 3.40 -3.00 1 0 331.39 268.82A5.40 3.40 -3.00 1 0 320.61 269.38Z" fill="#8d9ca9"/><path d="M321.2 270.2 Q326 273.6 331 270.2 Q326 271.0 321.2 270.2Z" fill="#c6d3de"/><path d="M298 226 L372 222 L372 262 L356 266.5 L322 263 L306 262Z" fill="#73828d"/><path d="M288.2 204.4L260.9 220.6C254.4 224.4 254.6 230.8 261.2 234.9L302.5 260.3C306.5 262.8 310.5 261.8 313.9 258.6S317.0 254.0 321.5 253.7L329.5 255.1L353.9 263.3L354.2 259.2L329.5 251.0L321.5 249.6L314.5 251.1L288.2 232.5Z" fill="url(#cyFin)" stroke="#586672" stroke-width="0.95"/><path d="M372.2 258.5L401.5 241.2C407.9 237.3 407.8 230.9 401.1 226.8L370.2 207.8L331.2 230.9Z" fill="url(#cyFin)" stroke="#586672" stroke-width="0.95"/><path d="M288.6 196.6L261.3 212.8C254.9 216.6 255.0 223.1 261.7 227.2L302.9 252.6C306.9 255.1 310.9 254.1 314.3 250.9S317.4 246.3 321.9 246.0L329.9 247.4L355.4 255.6L355.7 251.5L329.9 243.3L321.9 241.9L314.9 243.4L288.6 224.7Z" fill="url(#cyFin)" stroke="#586672" stroke-width="0.95"/><path d="M372.6 250.7L401.9 233.4C408.3 229.6 408.2 223.1 401.5 219.0L370.6 200.0L331.6 223.1Z" fill="url(#cyFin)" stroke="#586672" stroke-width="0.95"/><path d="M289.0 188.9L261.7 205.0C255.3 208.9 255.4 215.3 262.1 219.4L303.3 244.8C307.3 247.3 311.3 246.3 314.7 243.1S317.8 238.5 322.3 238.2L330.3 239.6L339.3 245.9L339.6 241.8L330.3 235.5L322.3 234.1L315.3 235.6L289.0 216.9Z" fill="url(#cyFin)" stroke="#586672" stroke-width="0.95"/><path d="M373.1 242.9L402.3 225.6C408.8 221.8 408.6 215.4 402.0 211.3L371.0 192.2L332.0 215.3Z" fill="url(#cyFin)" stroke="#586672" stroke-width="0.95"/><path d="M289.5 181.1L262.2 197.3C255.7 201.1 255.9 207.5 262.5 211.6L303.8 237.0C307.8 239.5 311.8 238.5 315.2 235.3S318.3 230.7 322.8 230.4L330.8 231.8L333.8 237.5L334.1 233.4L330.8 227.7L322.8 226.3L315.8 227.8L289.5 209.1Z" fill="url(#cyFin)" stroke="#586672" stroke-width="0.95"/><path d="M373.5 235.2L402.7 217.8C409.2 214.0 409.0 207.6 402.4 203.5L371.4 184.4L332.4 207.5Z" fill="url(#cyFin)" stroke="#586672" stroke-width="0.95"/><path d="M289.9 173.3L262.6 189.5C256.1 193.3 256.3 199.7 262.9 203.8L304.2 229.2C308.2 231.7 312.2 230.7 315.6 227.5S318.7 222.9 323.2 222.6L331.2 224.0L328.2 229.0L328.5 224.9L331.2 219.9L323.2 218.5L316.2 220.0L289.9 201.3Z" fill="url(#cyFin)" stroke="#586672" stroke-width="0.95"/><path d="M373.9 227.4L403.1 210.0C409.6 206.2 409.4 199.8 402.8 195.7L371.8 176.6L332.9 199.8Z" fill="url(#cyFin)" stroke="#586672" stroke-width="0.95"/><path d="M341.3 149.8L403.2 187.9C409.9 192.0 410.0 198.4 403.6 202.3L349.0 234.6C342.5 238.4 331.9 238.2 325.2 234.1L263.3 196.0C256.7 191.9 256.5 185.5 263.0 181.7L317.6 149.3C324.0 145.5 334.7 145.7 341.3 149.8Z" fill="url(#cyFin)" stroke="#586672" stroke-width="0.95"/><path d="M341.7 142.0L403.6 180.1C410.3 184.2 410.4 190.7 404.0 194.5L349.4 226.8C342.9 230.7 332.3 230.5 325.7 226.4L263.8 188.3C257.1 184.2 257.0 177.7 263.4 173.9L318.0 141.6C324.5 137.7 335.1 137.9 341.7 142.0Z" fill="url(#cyFin)" stroke="#586672" stroke-width="0.95"/><path d="M342.2 134.3L404.1 172.4C410.7 176.5 410.9 182.9 404.4 186.7L349.8 219.1C343.4 222.9 332.7 222.7 326.1 218.6L264.2 180.5C257.5 176.4 257.4 170.0 263.8 166.1L318.4 133.8C324.9 130.0 335.5 130.2 342.2 134.3Z" fill="url(#cyFin)" stroke="#586672" stroke-width="0.95"/><path d="M342.6 126.5L404.5 164.6C411.1 168.7 411.3 175.1 404.8 178.9L350.2 211.3C343.8 215.1 333.1 214.9 326.5 210.8L264.6 172.7C258.0 168.6 257.8 162.2 264.3 158.4L318.8 126.0C325.3 122.2 335.9 122.4 342.6 126.5Z" fill="url(#cyFin)" stroke="#586672" stroke-width="0.95"/><path d="M343.0 118.7L404.9 156.8C411.5 160.9 411.7 167.3 405.2 171.1L350.7 203.5C344.2 207.3 333.6 207.1 326.9 203.0L265.0 164.9C258.4 160.8 258.2 154.4 264.7 150.6L319.3 118.2C325.7 114.4 336.4 114.6 343.0 118.7Z" fill="url(#cyFin)" stroke="#586672" stroke-width="0.95"/><path d="M343.4 110.9L405.3 149.0C412.0 153.1 412.1 159.5 405.7 163.4L351.1 195.7C344.6 199.5 334.0 199.3 327.3 195.2L265.4 157.1C258.8 153.0 258.6 146.6 265.1 142.8L319.7 110.4C326.1 106.6 336.8 106.8 343.4 110.9Z" fill="url(#cyFin)" stroke="#586672" stroke-width="0.95"/><path d="M343.8 103.1L405.7 141.2C412.4 145.3 412.5 151.8 406.1 155.6L351.5 187.9C345.0 191.8 334.4 191.6 327.8 187.5L265.9 149.4C259.2 145.3 259.1 138.8 265.5 135.0L320.1 102.7C326.6 98.8 337.2 99.0 343.8 103.1Z" fill="url(#cyFin)" stroke="#586672" stroke-width="0.95"/><rect x="250" y="135" width="16" height="105" fill="url(#cyEdge)" clip-path="url(#cyFinClip)"/><path d="M336.4 234.5 Q336 230.5 340.5 229.8 L356 232.5 L353 247 L338 241.5 Q336.2 239 336.4 234.5Z" fill="url(#cyTube)"/><path d="M390.1 244.6 L392.6 244.8 L400.5 249 Q403.6 252.5 403.2 256.5 L401 259 L392 250Z" fill="#a3b3c0"/><path d="M373 266 L372.6 279.2 L395.6 267 Q401.5 262.5 402.6 256.4 L396 254 Z" fill="#82909b"/><path d="M363.4 261.5 L363.4 272.6 L372.6 279.2 L373.2 267.5Z" fill="#69757f"/><path d="M350.6 242.6 Q350.4 238 353.2 236.6 L359.4 234.2 L369.8 232.2 L369.8 225.4 L375.4 223.4 L375.4 235.4 L385.8 232.2 Q389.2 232 389.5 235.6 L390.1 245.2 L392.1 249.2 L399.5 252.4 Q402.4 254.5 402 258 Q401.3 262.5 396 266.2 L386 271.2 L373.6 267.6 L363.4 272.4 L363.4 266 L358.6 263.8 L357 250.4 L352.6 247.4 Q350.6 245.5 350.6 242.6Z" fill="#7a8792"/><path d="M364.2 250.4 Q368 245.5 373 243 L381 239.2 L384.6 239 L384.8 250.2 Q381.5 255 377 258.2 Q371 261.6 364.8 262.4Z" fill="#adbfce"/><path d="M374.6 242.3 L381 239.2 L384.6 239 L384.8 250.2 Q384 244.5 374.6 242.3Z" fill="#6d7a85"/><path d="M353.16 241.04A3.10 4.30 28.00 1 0 358.64 243.96A3.10 4.30 28.00 1 0 353.16 241.04Z" fill="#d3dde6"/><path d="M353.6 239.8 Q356.5 237.6 358.6 239.8 Q356.4 239.6 354.6 241.6Z" fill="#8997a3"/><path d="M393.06 257.14A3.10 4.30 28.00 1 0 398.54 260.06A3.10 4.30 28.00 1 0 393.06 257.14Z" fill="#d3dde6"/><path d="M393.5 255.9 Q396.4 253.7 398.5 255.9 Q396.3 255.7 394.5 257.7Z" fill="#8997a3"/><path d="M331.66 109.76A6.20 3.00 -8.00 1 0 343.94 108.04A6.20 3.00 -8.00 1 0 331.66 109.76Z" fill="#9eb0c0"/><path d="M332 109.5 Q337.5 106.5 343.6 108.3" fill="none" stroke="#7d8f9e" stroke-width="0.7"/><path d="M322.68 176.49A8.00 4.00 8.00 1 0 338.52 178.71A8.00 4.00 8.00 1 0 322.68 176.49Z" fill="#a9bbca" stroke="#7f91a0" stroke-width="0.6"/><path d="M327.80 176.04A4.60 2.00 12.00 1 0 336.80 177.96A4.60 2.00 12.00 1 0 327.80 176.04Z" fill="#73838f"/><path d="M354.4 110.7L380.5 125.3C385.7 128.2 385.6 133.6 380.3 137.4L335.5 169.0C330.2 172.8 321.7 173.4 316.5 170.5L290.4 155.9C285.1 153.0 285.2 147.6 290.5 143.8L335.3 112.2C340.6 108.4 349.1 107.8 354.4 110.7Z" fill="#9caec0" stroke="#586672" stroke-width="0.6"/><path d="M354.6 107.7L380.7 122.3C385.9 125.2 385.8 130.6 380.5 134.4L335.7 166.0C330.4 169.8 321.9 170.4 316.7 167.5L290.6 152.9C285.3 150.0 285.4 144.6 290.7 140.8L335.5 109.2C340.8 105.4 349.3 104.8 354.6 107.7Z" fill="#bccddc" stroke="#8296a6" stroke-width="0.5"/><path d="M355.3 131.4 Q366 132 375.5 139 Q384 147 384.9 160.3 Q384 172 380.5 175.4 Q372 181 362.9 182.9 Q352 178 349 160 Q349 140 355.3 131.4Z" fill="url(#cySh)"/><path d="M375.5 139 L378.2 137.6 L388.6 131.2 L389.2 126.0 L376 131.5Z" fill="#b4c6d5"/><path d="M375.8 139.0 L378.2 137.6 L378.6 143.2 L376.6 144.6Z" fill="#8fa2b2"/><path d="M333.72 153.19A19.30 26.20 12.00 1 0 371.48 161.21A19.30 26.20 12.00 1 0 333.72 153.19Z" fill="#bccddc"/><path d="M355.3 131.4 Q367 137 371.6 151 Q374.5 166 368 177 Q365.5 180.5 362.9 182.9" fill="none" stroke="#90a3b3" stroke-width="0.6"/><path d="M336.55 153.07A11.70 13.70 14.00 1 0 359.25 158.73A11.70 13.70 14.00 1 0 336.55 153.07Z" fill="url(#cyHole)"/><path d="M338.5 160 Q345 156.5 352 162.5 Q355 166 355.6 169.3 Q350 171.5 344.5 168.5 Q340 165 338.5 160Z" fill="#9fb1c0"/><path d="M339 159.5 Q346 156 353 163 Q355.3 166 355.8 169" fill="none" stroke="#6d7e8c" stroke-width="0.7"/><path d="M331.5 164.2 L336.3 162.2 L334.6 170.2Z" fill="#7d8f9e"/>
<path d="M531.7 250.5L538.3 245.8L542.6 246.4L544.2 252.0L536.0 258.0Z" fill="url(#fwB1)" stroke-linejoin="round"/><path d="M552.5 254.0L560.8 249.2L565.0 250.4L566.7 261.5L556.0 262.0Z" fill="url(#fwB2)" stroke-linejoin="round"/><path d="M575.0 270.0L584.2 263.3L587.5 264.6L587.5 277.5L578.0 279.0Z" fill="url(#fwB3)" stroke-linejoin="round"/><path d="M566.0 339.0L612.7 317.6L624.7 315.8L625.6 319.4L572.0 350.0Z" fill="url(#fwB4)" stroke-linejoin="round"/><path d="M574.0 358.6L617.5 341.5L633.4 346.2L633.6 349.8L580.0 378.5Z" fill="url(#fwB5)" stroke-linejoin="round"/><path d="M580.0 379.5L619.1 362.3L633.6 373.3L632.8 377.8L582.0 405.5Z" fill="url(#fwB6)" stroke-linejoin="round"/><path d="M582.0 407.0L619.9 387.1L624.9 393.3L624.0 397.6L578.0 423.2Z" fill="url(#fwB7)" stroke-linejoin="round"/><path d="M576.0 420.5L593.5 414.2L594.5 416.6L574.0 427.5Z" fill="url(#fwB8)" stroke-linejoin="round"/><path d="M487.5 273.8 L535 249.5 Q545 250.5 552.5 255 Q565 260.5 575 267.5 Q584 274 590 280 Q596 286 600.5 293.5 L563 318 L520 340 Z" fill="url(#fwS)"/><path d="M560.8 316.3 L598.6 293.4 L606.5 286.9 Q608.6 286.6 608.4 290.6 L603.3 298.3 L564.2 321.9Z" fill="#4c4c4c"/><path d="M471.49 384.90A56.20 90.50 -29.30 1 0 569.51 329.90A56.20 90.50 -29.30 1 0 471.49 384.90Z" fill="url(#fwRim)"/><g clip-path="url(#fwClip)"><rect x="440" y="260" width="160" height="200" fill="url(#fwWall)"/><path d="M493.68 373.82A45.20 77.00 -29.30 1 0 572.52 329.58A45.20 77.00 -29.30 1 0 493.68 373.82Z" fill="#464646"/><path d="M468 296 L489.5 283.5 L495.5 301.5 L488 318 Q478 306 468 296Z" fill="#3f3f3f"/><path d="M499.2 304.5 L499.2 307.7 Q523 311 543.3 332.7 L553.5 324.2" fill="none" stroke="#353535" stroke-width="0.9"/><path d="M498.3 379.7 L507.5 373.3 Q511 381 516.7 386.7 Q523 392 530 395 Q538 397.5 546.7 396.7 L543.3 406.7 Q530 408.5 520 404.2 Q512 400 506.7 393.3 Q501.5 387 498.3 379.7Z" fill="url(#fwLit)"/><path d="M543.3 406.7 L546.7 396.7 L551.7 403.3 Q553 416 550 430 L540 413.3Z" fill="url(#fwV)"/><path d="M470 399 L498.3 379.7 Q501.5 387 506.7 393.3 Q512 400 520 404.2 Q530 408.5 543.3 406.7 L540 413.3 L550 430 L556 452 L500 452 L470 420Z" fill="#4a4a4a"/></g><path d="M522.14 355.56A8.10 10.40 -29.30 1 0 536.26 347.64A8.10 10.40 -29.30 1 0 522.14 355.56Z" fill="url(#fwHole)"/><circle cx="501.3" cy="343.8" r="1.5" fill="#8e8e8e"/><circle cx="557.5" cy="358.8" r="1.5" fill="#8e8e8e"/>
<path d="M279.5 287.9L278.4 318.3A2.3 4.7 92.0 0 0 287.8 318.7L288.9 288.3A2.3 4.7 92.0 0 0 279.5 287.9Z" fill="url(#b1s1)"/><path d="M283.18 316.22A2.28 4.70 92.03 1 0 283.02 320.78A2.28 4.70 92.03 1 0 283.18 316.22Z" fill="url(#b1s1)"/><path d="M293.6 288.4L293.8 282.2A5.1 9.4 -88.0 0 0 275.0 281.6L274.8 287.8A5.1 9.4 -88.0 0 0 293.6 288.4Z" fill="url(#b1h1)"/><path d="M284.22 286.97A5.08 9.40 -87.97 1 0 284.58 276.83A5.08 9.40 -87.97 1 0 284.22 286.97Z" fill="#8c8c8c"/><path d="M284.24 286.00A4.60 8.70 -88.00 1 0 284.56 276.80A4.60 8.70 -88.00 1 0 284.24 286.00Z" fill="#6b6b6b"/><path d="M284.31 284.20A2.60 4.70 -88.00 1 0 284.49 279.00A2.60 4.70 -88.00 1 0 284.31 284.20Z" fill="#5a5a5a"/><path d="M284.53 284.40A2.00 3.80 -88.00 1 0 284.67 280.40A2.00 3.80 -88.00 1 0 284.53 284.40Z" fill="#7a7a7a"/><path d="M256.4 315.2L255.1 345.6A2.3 4.7 92.5 0 0 264.5 346.0L265.8 315.6A2.3 4.7 92.5 0 0 256.4 315.2Z" fill="url(#b1s2)"/><path d="M259.90 343.52A2.28 4.70 92.50 1 0 259.70 348.08A2.28 4.70 92.50 1 0 259.90 343.52Z" fill="url(#b1s2)"/><path d="M270.5 315.8L270.8 309.6A5.1 9.4 -87.5 0 0 252.0 308.8L251.7 315.0A5.1 9.4 -87.5 0 0 270.5 315.8Z" fill="url(#b1h2)"/><path d="M261.18 314.27A5.08 9.40 -87.50 1 0 261.62 304.13A5.08 9.40 -87.50 1 0 261.18 314.27Z" fill="#8c8c8c"/><path d="M261.20 313.30A4.60 8.70 -87.50 1 0 261.60 304.10A4.60 8.70 -87.50 1 0 261.20 313.30Z" fill="#6b6b6b"/><path d="M261.29 311.50A2.60 4.70 -87.50 1 0 261.51 306.30A2.60 4.70 -87.50 1 0 261.29 311.50Z" fill="#5a5a5a"/><path d="M261.51 311.70A2.00 3.80 -87.50 1 0 261.69 307.70A2.00 3.80 -87.50 1 0 261.51 311.70Z" fill="#7a7a7a"/><path d="M598.4 443.8L590.6 448.2A5.2 9.0 150.3 0 0 599.6 463.8L607.4 459.4A5.2 9.0 150.3 0 0 598.4 443.8Z" fill="url(#b2h3)"/><path d="M599.63 453.44A5.22 9.00 150.30 1 0 590.56 458.62A5.22 9.00 150.30 1 0 599.63 453.44Z" fill="#5e5e5e"/><path d="M593.0 452.4L552.9 475.3A2.4 4.2 150.3 0 0 557.1 482.5L597.1 459.6A2.4 4.2 150.3 0 0 593.0 452.4Z" fill="url(#b2s3)"/><path d="M557.09 477.71A2.41 4.15 150.30 1 0 552.91 480.09A2.41 4.15 150.30 1 0 557.09 477.71Z" fill="#5a5a5a"/><path d="M637.4 462.4L629.7 466.9A5.2 9.0 149.7 0 0 638.8 482.4L646.5 477.9A5.2 9.0 149.7 0 0 637.4 462.4Z" fill="url(#b2h4)"/><path d="M638.72 472.04A5.22 9.00 149.72 1 0 629.71 477.30A5.22 9.00 149.72 1 0 638.72 472.04Z" fill="#5e5e5e"/><path d="M632.1 471.1L592.5 494.2A2.4 4.2 149.7 0 0 596.7 501.4L636.3 478.3A2.4 4.2 149.7 0 0 632.1 471.1Z" fill="url(#b2s4)"/><path d="M596.68 496.59A2.41 4.15 149.72 1 0 592.52 499.01A2.41 4.15 149.72 1 0 596.68 496.59Z" fill="#5a5a5a"/><path d="M652.3 501.6L644.5 506.0A5.2 9.0 150.2 0 0 653.5 521.6L661.3 517.2A5.2 9.0 150.2 0 0 652.3 501.6Z" fill="url(#b2h5)"/><path d="M653.52 511.24A5.22 9.00 150.20 1 0 644.47 516.43A5.22 9.00 150.20 1 0 653.52 511.24Z" fill="#5e5e5e"/><path d="M646.9 510.2L607.5 532.8A2.4 4.2 150.2 0 0 611.7 540.0L651.1 517.4A2.4 4.2 150.2 0 0 646.9 510.2Z" fill="url(#b2s5)"/><path d="M611.69 535.20A2.41 4.15 150.20 1 0 607.51 537.60A2.41 4.15 150.20 1 0 611.69 535.20Z" fill="#5a5a5a"/>
<path d="M326.31 335.71A30.10 17.90 1.50 1 0 386.49 337.29A30.10 17.90 1.50 1 0 326.31 335.71Z" fill="none" stroke="url(#prG)" stroke-width="2.9"/><path d="M325.91 334.90A30.50 18.30 1.50 1 0 386.89 336.50A30.50 18.30 1.50 1 0 325.91 334.90Z" fill="none" stroke="#cfdbe5" stroke-width="0.8" opacity="0.9"/><path d="M377.3 346.6 L379.2 349.6" stroke="#eef2f5" stroke-width="1.0" fill="none"/><path d="M293.7 344.0L258.7 362.1A6.0 7.7 152.7 0 0 265.7 375.7L300.7 357.6A6.0 7.7 152.7 0 0 293.7 344.0Z" fill="url(#ppG)"/><path d="M267.53 366.14A6.01 7.70 152.65 1 0 256.87 371.66A6.01 7.70 152.65 1 0 267.53 366.14Z" fill="#c6d4e0"/><path d="M267.53 366.15A6.00 7.70 152.70 1 0 256.87 371.65A6.00 7.70 152.70 1 0 267.53 366.15Z" fill="none" stroke="#9fb1c1" stroke-width="0.5"/><path d="M266.32 367.03A4.30 5.70 152.70 1 0 258.68 370.97A4.30 5.70 152.70 1 0 266.32 367.03Z" fill="url(#ppH)"/><path d="M294.8 378.2 L294.8 427.4 L315.3 433.9 Q319 437 321.5 441.5 Q323.5 445.2 326 446.6 Q342 448 357.1 432.4 L357.1 378.2Z" fill="url(#piB)"/><path d="M296.2 400.5 L316.5 407.5 L316.8 428.3 L296.2 421.5Z" fill="#6c6c6c"/><path d="M296.8 418.5 Q305 423 316.2 427.8" fill="none" stroke="#8a8a8a" stroke-width="1.6"/><path d="M301.47 416.30A5.50 7.10 -18.00 1 0 311.93 412.90A5.50 7.10 -18.00 1 0 301.47 416.30Z" fill="url(#piH)"/><path d="M295.1 390.8 A31.2 17.8 0 0 0 356.8 390.8" fill="none" stroke="#8c8c8c" stroke-width="1.5"/><path d="M294.8 378.2 A31.2 17.8 0 0 0 357.1 378.2 L357.1 383.8 A31.2 17.8 0 0 1 294.8 383.8Z" fill="#6b6b6b" opacity="0.55"/><ellipse cx="326.00" cy="378.20" rx="31.20" ry="17.80" fill="url(#piT)"/>
<path d="M234.9 472.9L244.3 467.7A17.7 28.5 -29.3 0 1 272.2 517.4L262.7 522.7Z" fill="url(#brO2)"/><path d="M233.36 506.46A17.70 28.50 -29.30 1 0 264.24 489.14A17.70 28.50 -29.30 1 0 233.36 506.46Z" fill="url(#brF2)"/><path d="M231.9 502.7A16.9 27.7 -29.3 0 0 265.0 520.5" fill="none" stroke="#707070" stroke-width="0.9"/><path d="M240.96 502.19A10.60 17.10 -29.30 1 0 259.44 491.81A10.60 17.10 -29.30 1 0 240.96 502.19Z" fill="#404040"/><path d="M241.40 502.00A9.40 15.10 -29.30 1 0 257.80 492.80A9.40 15.10 -29.30 1 0 241.40 502.00Z" fill="url(#brI2)"/><path d="M243.71 500.87A7.10 11.40 -29.30 1 0 256.09 493.93A7.10 11.40 -29.30 1 0 243.71 500.87Z" fill="url(#brB2)"/><path d="M185.8 494.0L195.2 488.8A17.7 28.5 -29.3 0 1 223.1 538.5L213.6 543.8Z" fill="url(#brO1)"/><path d="M184.26 527.56A17.70 28.50 -29.30 1 0 215.14 510.24A17.70 28.50 -29.30 1 0 184.26 527.56Z" fill="url(#brF1)"/><path d="M182.8 523.8A16.9 27.7 -29.3 0 0 215.9 541.6" fill="none" stroke="#707070" stroke-width="0.9"/><path d="M191.86 523.29A10.60 17.10 -29.30 1 0 210.34 512.91A10.60 17.10 -29.30 1 0 191.86 523.29Z" fill="#404040"/><path d="M192.30 523.10A9.40 15.10 -29.30 1 0 208.70 513.90A9.40 15.10 -29.30 1 0 192.30 523.10Z" fill="url(#brI1)"/><path d="M194.61 521.97A7.10 11.40 -29.30 1 0 206.99 515.03A7.10 11.40 -29.30 1 0 194.61 521.97Z" fill="url(#brB1)"/>
<path d="M558.8 509.2C574.5 517.3 565.3 511.0 570.6 518.4C575.8 525.7 575.2 527.7 578.5 536.8C581.8 545.9 582.4 542.7 582.9 552.5C583.4 562.3 583.4 563.4 580.3 573.5C577.2 583.7 577.0 582.7 571.4 590.6C565.8 598.4 568.1 597.2 559.3 602.9C550.5 608.7 549.6 609.0 538.3 612.1C527.0 615.3 528.8 614.7 516.8 614.7C504.7 614.7 502.9 613.5 493.1 612.1C483.3 610.7 487.7 614.2 480.0 609.5C472.3 604.8 469.2 609.7 464.3 594.5C459.4 579.3 456.0 574.9 461.6 552.5C467.2 530.1 472.0 527.7 485.3 510.5C498.6 493.4 491.9 488.6 511.5 488.2C531.1 487.9 543.0 501.2 558.8 509.2Z" fill="url(#ebRim)"/><path d="M547.0 506.6C559.1 514.7 553.2 512.1 557.2 520.5C561.2 528.9 560.1 529.2 561.9 538.1C563.7 547.0 564.0 545.2 564.0 553.8C564.0 562.4 564.2 562.0 561.9 570.4C559.7 578.7 560.0 578.4 555.6 585.1C551.3 591.8 552.4 590.6 545.6 595.6C538.9 600.5 538.8 600.6 530.4 603.7C522.0 606.8 524.1 606.6 514.1 607.1C504.2 607.6 502.2 606.3 493.1 605.6C484.0 604.9 487.4 608.5 480.0 604.5C472.7 600.5 470.1 604.5 465.6 590.6C461.0 576.7 457.7 573.5 462.9 552.5C468.2 531.5 472.3 528.5 485.3 511.8C498.2 495.2 495.1 491.4 511.5 490.0C528.0 488.6 534.8 498.5 547.0 506.6Z" fill="url(#ebFa)"/><path d="M406.0 471.1L408.6 454.1L414.4 438.3L423.6 426.5L440.6 438.3L441.2 447.5Z" fill="#7a7a7a"/><path d="M401.3 469.8L440.6 446.7L441.2 439.1L433.3 434.4L441.9 420.7L558.8 508.4L570.6 509.7L585.0 513.7L592.9 521.5L591.9 528.9L582.9 535.7L570.6 527.6L564.6 515.2L522.5 493.2L512.0 490.0L466.9 511.8L464.3 505.3L453.8 481.6L435.4 473.8L414.4 471.1Z" fill="#cdcdcd"/><path d="M466.9 511.8L512.0 490.0L516.8 492.7L485.3 511.8L467.4 521.5Z" fill="#b9b9b9"/><path d="M568.0 518.4L570.6 527.6L582.9 535.7L591.9 528.9L592.9 522.1L585.0 526.3L576.6 525.7Z" fill="#bdbdbd"/><path d="M570.6 509.7L585.0 513.7L592.9 521.5L585.0 525.7L577.2 525.0L568.0 518.4L564.6 515.2Z" fill="#d9d9d9"/><path d="M573.66 528.80A2.50 3.40 -29.30 1 0 578.02 526.36A2.50 3.40 -29.30 1 0 573.66 528.80Z" fill="#8c8c8c"/><path d="M574.64 528.99A1.95 2.72 -29.30 1 0 578.04 527.08A1.95 2.72 -29.30 1 0 574.64 528.99Z" fill="#f4f4f4"/><path d="M403.4 415.5L404.4 421.3L410.4 428.6L418.3 431.2L422.8 427.0L433.3 434.4L441.9 420.7L418.3 405.0L407.8 408.1Z" fill="#b4b4b4"/><path d="M404.4 413.9L407.8 408.1L418.3 405.0L441.9 420.7L435.9 428.6L424.9 421.3L417.0 426.0L409.1 422.6Z" fill="#d6d6d6"/><path d="M408.26 421.95A2.50 3.30 -29.30 1 0 412.62 419.51A2.50 3.30 -29.30 1 0 408.26 421.95Z" fill="#8c8c8c"/><path d="M409.24 422.13A1.95 2.64 -29.30 1 0 412.64 420.22A1.95 2.64 -29.30 1 0 409.24 422.13Z" fill="#f4f4f4"/><path d="M433.3 434.4L441.2 439.1L440.6 446.7L431.4 440.9Z" fill="#a9a9a9"/><path d="M435.9 428.6L441.9 420.7L443.8 422.3L438.0 430.4Z" fill="#6f6f6f"/><ellipse cx="439.32" cy="457.22" rx="4.60" ry="2.80" fill="#9a9a9a"/><ellipse cx="439.72" cy="457.61" rx="3.60" ry="2.00" fill="#b9b9b9"/><g clip-path="url(#ebClip)"><path d="M394.01 491.53A6.80 9.20 -29.30 1 0 405.87 484.87A6.80 9.20 -29.30 1 0 394.01 491.53Z" fill="#a4a4a4"/><path d="M384.03 511.74A6.80 9.20 -29.30 1 0 395.89 505.09A6.80 9.20 -29.30 1 0 384.03 511.74Z" fill="#a4a4a4"/><path d="M385.35 528.81A6.80 9.20 -29.30 1 0 397.21 522.15A6.80 9.20 -29.30 1 0 385.35 528.81Z" fill="#a4a4a4"/><path d="M422.89 587.88A6.80 9.20 -29.30 1 0 434.75 581.22A6.80 9.20 -29.30 1 0 422.89 587.88Z" fill="#a4a4a4"/><path d="M401.74 548.40A42.50 68.00 -29.30 1 0 475.86 506.80A42.50 68.00 -29.30 1 0 401.74 548.40Z" fill="#8c8c8c"/><path d="M407.80 545.05A37.50 61.00 -29.30 1 0 473.20 508.35A37.50 61.00 -29.30 1 0 407.80 545.05Z" fill="url(#ebW)"/><path d="M424.29 535.89A33.50 56.50 -29.30 1 0 482.71 503.11A33.50 56.50 -29.30 1 0 424.29 535.89Z" fill="#747474"/><path d="M437.62 528.53A20.50 36.00 -29.30 1 0 473.38 508.47A20.50 36.00 -29.30 1 0 437.62 528.53Z" fill="url(#ebW2)"/><path d="M448.11 522.57A16.50 30.50 -29.30 1 0 476.89 506.43A16.50 30.50 -29.30 1 0 448.11 522.57Z" fill="#6e6e6e"/><path d="M456.22 518.15A9.50 17.00 -29.30 1 0 472.78 508.85A9.50 17.00 -29.30 1 0 456.22 518.15Z" fill="url(#ebW3)"/><path d="M462.90 514.43A7.00 13.50 -29.30 1 0 475.10 507.57A7.00 13.50 -29.30 1 0 462.90 514.43Z" fill="#8a8a8a"/></g><path d="M400.8 469.5L454.2 467.7L453.7 473.3L450.0 478.3L435.0 479.3L428.3 482.0L419.2 482.0L406.7 486.2L401.3 482.0Z" fill="#c3c3c3"/><path d="M399.7 470.3L400.8 469.5L401.3 482.0L406.7 486.2L405.0 487.7L400.0 483.7Z" fill="#a9a9a9"/><path d="M435.9 473.8L453.8 471.1L461.6 473.8L472.7 480.3L466.9 485.6L453.8 481.6Z" fill="#8e8e8e"/><path d="M461.6 473.8L472.7 480.3L474.2 496.1L471.6 500.0L468.2 486.9Z" fill="#777"/><path d="M397.67 489.47A2.60 3.50 -29.30 1 0 402.21 486.93A2.60 3.50 -29.30 1 0 397.67 489.47Z" fill="#8c8c8c"/><path d="M398.67 489.64A2.03 2.80 -29.30 1 0 402.21 487.66A2.03 2.80 -29.30 1 0 398.67 489.64Z" fill="#f4f4f4"/><path d="M387.70 509.69A2.60 3.50 -29.30 1 0 392.23 507.14A2.60 3.50 -29.30 1 0 387.70 509.69Z" fill="#8c8c8c"/><path d="M388.70 509.86A2.03 2.80 -29.30 1 0 392.23 507.87A2.03 2.80 -29.30 1 0 388.70 509.86Z" fill="#f4f4f4"/><path d="M389.01 526.75A2.60 3.50 -29.30 1 0 393.54 524.21A2.60 3.50 -29.30 1 0 389.01 526.75Z" fill="#8c8c8c"/><path d="M390.01 526.92A2.03 2.80 -29.30 1 0 393.55 524.94A2.03 2.80 -29.30 1 0 390.01 526.92Z" fill="#f4f4f4"/><path d="M426.55 585.82A2.60 3.50 -29.30 1 0 431.09 583.28A2.60 3.50 -29.30 1 0 426.55 585.82Z" fill="#8c8c8c"/><path d="M427.55 585.99A2.03 2.80 -29.30 1 0 431.09 584.01A2.03 2.80 -29.30 1 0 427.55 585.99Z" fill="#f4f4f4"/><path d="M463.7 504.7L467.4 521.5L469.5 534.1L487.9 526.3L486.6 510.5L467.4 511.8Z" fill="#b2b2b2"/><path d="M485.3 511.8C490.3 500.4 502.1 494.7 512.0 490.0C522.0 485.3 516.4 489.5 522.5 494.2C528.7 499.0 535.3 500.7 535.1 507.9C535.0 515.0 533.2 514.4 522.0 521.0C510.8 527.7 502.9 535.3 493.1 532.8C483.3 530.4 480.2 523.2 485.3 511.8Z" fill="#c4c4c4" opacity="0.55"/><path d="M467.4 526.3C470.4 521.0 479.9 521.3 485.3 516.3C490.7 511.3 485.6 508.2 490.5 504.7C495.4 501.2 500.3 500.9 506.3 501.3C512.3 501.8 513.7 502.6 516.2 506.6C518.8 510.6 518.7 512.9 517.3 518.4C515.9 523.9 515.8 525.9 510.2 530.2C504.6 534.5 498.3 536.5 493.1 536.8C487.9 537.1 492.7 531.0 487.9 531.5C483.1 532.0 477.4 540.1 472.7 538.9C467.9 537.6 464.5 531.5 467.4 526.3Z" fill="url(#ebB1)"/><path d="M472.7 557.2C477.1 551.2 489.6 546.0 498.4 542.5C507.2 539.1 506.5 541.1 510.2 542.5C513.9 544.0 515.1 545.6 514.1 548.6C513.2 551.5 514.4 550.6 506.3 555.1C498.2 559.7 487.3 567.8 479.5 568.3C471.6 568.8 468.3 563.3 472.7 557.2Z" fill="url(#ebB2)"/><path d="M503.1 594.0C506.5 587.6 518.5 580.3 526.0 576.1C533.4 572.0 532.1 574.2 535.1 576.1C538.2 578.1 539.7 580.6 539.1 584.6C538.5 588.5 539.0 588.7 532.5 593.2C526.1 597.7 518.4 603.5 511.5 603.7C504.7 603.9 499.7 600.4 503.1 594.0Z" fill="url(#ebB3)"/><path d="M494.5 567.0L511.5 572.2L518.1 580.1L506.3 590.6L503.1 578.8Z" fill="#e2e2e2"/><path d="M494.5 567.0L503.1 578.8L506.3 590.6L500.5 588.0L496.3 576.1Z" fill="#b0b0b0"/><path d="M463.32 535.57A5.60 7.60 -29.30 1 0 473.08 530.09A5.60 7.60 -29.30 1 0 463.32 535.57Z" fill="#b2b2b2"/><path d="M465.93 534.10A2.60 3.50 -29.30 1 0 470.47 531.56A2.60 3.50 -29.30 1 0 465.93 534.10Z" fill="#8c8c8c"/><path d="M466.93 534.27A2.03 2.80 -29.30 1 0 470.47 532.29A2.03 2.80 -29.30 1 0 466.93 534.27Z" fill="#f4f4f4"/><path d="M469.36 565.24A5.60 7.60 -29.30 1 0 479.12 559.76A5.60 7.60 -29.30 1 0 469.36 565.24Z" fill="#b2b2b2"/><path d="M471.97 563.77A2.60 3.50 -29.30 1 0 476.51 561.23A2.60 3.50 -29.30 1 0 471.97 563.77Z" fill="#8c8c8c"/><path d="M472.97 563.94A2.03 2.80 -29.30 1 0 476.51 561.96A2.03 2.80 -29.30 1 0 472.97 563.94Z" fill="#f4f4f4"/><path d="M500.60 601.21A5.60 7.60 -29.30 1 0 510.36 595.72A5.60 7.60 -29.30 1 0 500.60 601.21Z" fill="#b2b2b2"/><path d="M503.21 599.74A2.60 3.50 -29.30 1 0 507.75 597.19A2.60 3.50 -29.30 1 0 503.21 599.74Z" fill="#8c8c8c"/><path d="M504.21 599.91A2.03 2.80 -29.30 1 0 507.75 597.92A2.03 2.80 -29.30 1 0 504.21 599.91Z" fill="#f4f4f4"/><path d="M472.51 607.77A5.60 7.60 -29.30 1 0 482.27 602.29A5.60 7.60 -29.30 1 0 472.51 607.77Z" fill="#b2b2b2"/><path d="M475.12 606.30A2.60 3.50 -29.30 1 0 479.66 603.76A2.60 3.50 -29.30 1 0 475.12 606.30Z" fill="#8c8c8c"/><path d="M476.12 606.47A2.03 2.80 -29.30 1 0 479.66 604.49A2.03 2.80 -29.30 1 0 476.12 606.47Z" fill="#f4f4f4"/>
<path d="M226.7 611.7L238.3 623.3L243.3 635.0L251.7 641.7L253.7 660.0L252.0 675.0L243.3 683.7L238.3 691.7L231.7 691.7Z" fill="url(#efBell)"/><path d="M251.7 660.0L288.3 645.0L289.3 652.0L256.2 675.3L252.0 675.0Z" fill="url(#efLow)"/><path d="M253.0 643.7L281.7 626.7L285.3 635.0L288.7 645.0L256.2 665.3L252.0 658.7Z" fill="url(#efC2)"/><path d="M284.3 638.7C285.4 636.7 289.8 636.0 291.7 635.8C293.5 635.6 293.1 636.7 293.7 637.7C294.2 638.7 294.5 639.6 294.3 640.8C294.1 642.1 294.3 643.0 292.7 644.0C291.1 645.0 288.0 646.7 286.3 645.7C284.7 644.6 283.3 640.6 284.3 638.7Z" fill="url(#efPin)"/><path d="M243.3 623.3L281.7 609.2L285.7 614.7L285.3 620.3L251.7 642.0L245.0 635.0Z" fill="url(#efC1)"/><path d="M236.7 620.0L279.2 595.0L280.3 600.3L285.3 611.7L281.7 609.7L243.3 623.7Z" fill="url(#efTop)"/><path d="M229.2 595.0L248.3 598.7L261.7 595.3L273.3 590.0L279.3 595.0L236.7 620.3L231.7 615.0L228.3 600.0Z" fill="#d6d6d6"/><ellipse cx="240.83" cy="605.00" rx="5.20" ry="3.20" fill="#9c9c9c"/><ellipse cx="241.17" cy="605.42" rx="4.00" ry="2.20" fill="#bcbcbc"/><path d="M168.3 576.0L211.7 551.7L217.0 554.3L206.7 567.0L207.7 581.0L205.0 583.7L220.0 600.0L228.3 618.3L198.3 600.0L168.3 581.7Z" fill="#d9d9d9"/><path d="M168.3 576.7L188.3 578.7L205.0 584.3L215.0 595.0L220.0 605.0L198.3 600.0L168.3 582.0Z" fill="url(#efCv)"/><path d="M206.7 567.0C209.0 562.1 214.2 555.9 217.0 554.3C219.8 552.8 218.9 556.3 218.5 560.3C218.1 564.4 217.5 566.8 215.3 571.7C213.2 576.5 211.3 580.1 209.3 581.0C207.4 581.9 207.5 578.6 206.8 575.3C206.2 572.1 204.3 571.9 206.7 567.0Z" fill="url(#efFin)"/><path d="M215.8 580.0C216.1 579.0 221.4 580.4 223.3 582.7C225.3 584.9 226.7 588.2 227.7 593.7C228.7 599.2 230.3 613.1 229.3 615.7C228.3 618.2 222.9 613.5 221.7 609.0C220.4 604.5 222.6 593.5 221.7 588.7C220.7 583.8 215.6 581.0 215.8 580.0Z" fill="#d8d8d8"/><path d="M203.7 595.8C202.5 592.4 206.0 585.6 208.0 583.0C210.0 580.4 213.6 579.1 215.8 580.0C218.1 580.9 220.6 583.8 221.7 588.7C222.7 593.5 223.1 606.6 222.0 609.0C220.9 611.4 218.1 605.5 215.0 603.3C211.9 601.1 204.8 599.2 203.7 595.8Z" fill="#a2a2a2"/><path d="M211.07 592.94A2.60 3.40 -29.30 1 0 215.60 590.39A2.60 3.40 -29.30 1 0 211.07 592.94Z" fill="#7d7d7d"/><path d="M212.06 593.11A2.03 2.72 -29.30 1 0 215.60 591.12A2.03 2.72 -29.30 1 0 212.06 593.11Z" fill="#f4f4f4"/><path d="M118.7 583.0L119.7 575.3L124.0 571.0L128.7 570.3L131.3 572.3L133.7 568.7L143.3 564.3L239.3 624.0L242.0 630.3L230.8 630.3L145.8 573.7Z" fill="url(#efTb)"/><path d="M230.0 628.3L241.0 621.0L242.3 626.7L242.0 721.7L240.0 731.7L231.7 733.7L221.7 739.7L231.7 728.3Z" fill="url(#efRb)"/><path d="M124.2 672 L124.2 598 Q123.8 592.5 120.6 590 Q117.6 586.5 118.4 580.5 Q119.5 573.5 125 571.2 Q129 570.4 131.4 573.6 Q133 568.8 139 567.2 Q144.5 566.8 148.5 573.8 L224.5 624.4 Q230.8 628.2 231.2 635 L231.6 726 Q231.4 732 226.8 735.6 L222 739.2 Q219 740.4 215.6 738 L130.6 683.4 Q124.6 679.4 124.2 672Z" fill="#848484"/><g clip-path="url(#efClip)"><rect x="110" y="570" width="140" height="180" fill="url(#efW)"/><path d="M160.70 665.10A40.61 65.50 -29.30 1 0 231.53 625.36A40.61 65.50 -29.30 1 0 160.70 665.10Z" fill="#868686"/><path d="M164.01 663.25A39.01 62.90 -29.30 1 0 232.05 625.06A39.01 62.90 -29.30 1 0 164.01 663.25Z" fill="url(#efCone)"/><path d="M189.37 650.55A18.50 29.00 -29.30 1 0 221.63 632.45A18.50 29.00 -29.30 1 0 189.37 650.55Z" fill="#7e7e7e"/><path d="M193.69 646.66A13.20 21.00 -29.30 1 0 216.71 633.74A13.20 21.00 -29.30 1 0 193.69 646.66Z" fill="#bdbdbd"/><path d="M194.03 646.68A11.20 17.20 -29.30 1 0 213.57 635.72A11.20 17.20 -29.30 1 0 194.03 646.68Z" fill="#7a7a7a"/><path d="M195.07 645.31A8.40 11.20 -29.30 1 0 209.73 637.09A8.40 11.20 -29.30 1 0 195.07 645.31Z" fill="url(#efBore)"/><path d="M210 657 Q218 655 221.5 645 Q223 653 218 660 Q213 664 208 662Z" fill="#6c6c6c"/></g><path d="M123.05 585.22A2.70 3.60 -29.30 1 0 127.75 582.58A2.70 3.60 -29.30 1 0 123.05 585.22Z" fill="#6f6f6f"/><path d="M124.06 585.38A2.11 2.88 -29.30 1 0 127.74 583.32A2.11 2.88 -29.30 1 0 124.06 585.38Z" fill="#f4f4f4"/><path d="M135.48 584.17A3.00 4.00 -29.30 1 0 140.72 581.23A3.00 4.00 -29.30 1 0 135.48 584.17Z" fill="#6f6f6f"/><path d="M136.56 584.30A2.34 3.20 -29.30 1 0 140.64 582.00A2.34 3.20 -29.30 1 0 136.56 584.30Z" fill="#f4f4f4"/><path d="M221.52 637.21A3.30 4.40 -29.30 1 0 227.28 633.99A3.30 4.40 -29.30 1 0 221.52 637.21Z" fill="#6f6f6f"/><path d="M222.66 637.31A2.57 3.52 -29.30 1 0 227.14 634.79A2.57 3.52 -29.30 1 0 222.66 637.31Z" fill="#f4f4f4"/><path d="M130.63 677.06A3.40 4.40 -29.30 1 0 136.57 673.74A3.40 4.40 -29.30 1 0 130.63 677.06Z" fill="#6f6f6f"/><path d="M131.79 677.15A2.65 3.52 -29.30 1 0 136.41 674.55A2.65 3.52 -29.30 1 0 131.79 677.15Z" fill="#f4f4f4"/><path d="M213.71 730.87A3.20 4.30 -29.30 1 0 219.29 727.73A3.20 4.30 -29.30 1 0 213.71 730.87Z" fill="#6f6f6f"/><path d="M214.82 730.97A2.50 3.44 -29.30 1 0 219.18 728.53A2.50 3.44 -29.30 1 0 214.82 730.97Z" fill="#f4f4f4"/>
<path d="M323.2 498 L322.6 562 L338.8 566 L337.0 496Z" fill="url(#crS)"/><path d="M318.4 477.8L328.8 472.0A8.9 14.3 -29.3 0 1 342.8 497.0L332.4 502.8Z" fill="url(#crE1)"/><path d="M317.67 494.64A8.87 14.30 -29.30 1 0 333.13 485.96A8.87 14.30 -29.30 1 0 317.67 494.64Z" fill="#c66813"/><path d="M321.52 492.82A5.14 8.29 -29.30 1 0 330.48 487.78A5.14 8.29 -29.30 1 0 321.52 492.82Z" fill="#1d9fdc"/><g clip-path="url(#crC1)"><path d="M319.6 487.9L328.0 483.9 M321.1 490.6L329.5 486.6 M322.6 493.3L331.0 489.3 M324.1 496.0L332.5 492.0" stroke="#c8741f" stroke-width="1.1" fill="none"/><path d="M318.0 478.3L328.0 478.3L321.0 496.3Z" fill="#0f6fa8" opacity="0.35"/></g><path d="M315.5 561.8L327.1 555.3A11.8 19.0 -29.3 0 1 345.7 588.5L334.1 595.0Z" fill="url(#crE2)"/><path d="M314.53 584.16A11.78 19.00 -29.30 1 0 335.07 572.64A11.78 19.00 -29.30 1 0 314.53 584.16Z" fill="#c76914"/><path d="M319.64 581.54A6.83 11.02 -29.30 1 0 331.56 574.86A6.83 11.02 -29.30 1 0 319.64 581.54Z" fill="url(#crB2)"/><g clip-path="url(#crC2)"><path d="M315.9 574.1L327.9 568.3 M317.4 576.7L329.4 570.9 M318.9 579.3L330.9 573.5 M320.3 581.9L332.3 576.1 M321.8 584.5L333.8 578.7 M323.3 587.1L335.3 581.3" stroke="#c9752a" stroke-width="0.9" fill="none"/></g>
<path d="M370.2 640.2L399.7 623.5L411.3 643.9L381.8 660.6Z" fill="url(#ckR)"/><path d="M399.7 623.5L419.9 617.4L426.9 629.4L411.3 643.9Z" fill="url(#ckR)"/><path d="M427.0 629.3L453.8 612.9A4.2 7.0 -31.5 0 0 446.6 601.1L419.8 617.5A4.2 7.0 -31.5 0 0 427.0 629.3Z" fill="url(#ckR)"/><path d="M446.64 609.18A4.17 6.95 -31.46 1 0 453.76 604.82A4.17 6.95 -31.46 1 0 446.64 609.18Z" fill="#45484c"/><path d="M396.2 625.5L421.7 616.4L426.9 629.4L411.3 643.9Q409.1 633.9 396.2 625.5Z" fill="url(#ckBl)"/><path d="M408.4 632.7L423.6 623.7 M409.6 634.7L424.3 624.9 M410.7 636.8L425.0 626.1 M411.7 638.5L425.5 627.1 M412.6 640.1L426.1 628.1 M413.5 641.6L426.6 628.9" stroke="#1f9ce0" stroke-width="0.6" fill="none"/><g fill="url(#ckW2)"><use href="#ckFace2" x="0.00" y="-0.00"/><use href="#ckFace2" x="1.04" y="-0.54"/><use href="#ckFace2" x="2.08" y="-1.08"/><use href="#ckFace2" x="3.12" y="-1.62"/><use href="#ckFace2" x="4.16" y="-2.16"/><use href="#ckFace2" x="5.20" y="-2.70"/><use href="#ckFace2" x="6.24" y="-3.24"/><use href="#ckFace2" x="7.28" y="-3.78"/><use href="#ckFace2" x="8.32" y="-4.32"/><use href="#ckFace2" x="9.36" y="-4.86"/><use href="#ckFace2" x="10.40" y="-5.40"/></g><path d="M334.2 631.9C334.9 618.7 333.8 627.6 336.3 624.5C338.8 621.4 339.1 621.5 343.4 620.3C347.7 619.1 348.4 619.1 352.3 619.9C356.2 620.7 354.8 619.0 358.2 623.3C361.6 627.6 362.5 628.7 364.9 635.9C367.3 643.1 366.8 643.2 367.1 650.2C367.4 657.2 365.5 654.2 365.9 662.1C366.3 670.0 363.9 670.4 368.6 679.9C373.3 689.4 380.6 691.0 383.4 697.7C386.2 704.4 382.5 702.2 379.0 705.1C375.5 708.0 375.6 708.0 370.1 708.4C364.6 708.8 364.5 708.7 358.2 706.6C351.9 704.5 351.8 704.6 346.3 700.7C340.8 696.8 340.8 698.9 337.4 691.8C334.0 684.7 334.6 690.0 333.7 674.0C332.8 658.0 333.5 645.1 334.2 631.9Z" fill="#303337"/><path d="M343.4 620.3C346.4 620.2 347.4 618.9 352.3 619.9C357.2 620.9 354.0 618.0 358.2 623.3C362.4 628.6 361.9 626.9 364.9 635.9C367.9 644.9 366.8 641.5 367.1 650.2C367.4 658.9 365.4 652.2 365.9 662.1C366.4 672.0 367.7 674.0 368.6 679.9" fill="none" stroke="#6a6f73" stroke-width="0.8" opacity="0.8"/><path d="M357.5 628.3L341.9 636.1A4.0 6.7 153.4 0 0 347.9 648.1L363.5 640.3A4.0 6.7 153.4 0 0 357.5 628.3Z" fill="url(#ckP)"/><path d="M348.50 640.30A4.02 6.70 153.43 1 0 341.30 643.90A4.02 6.70 153.43 1 0 348.50 640.30Z" fill="url(#ckP)"/><path d="M353.8 685.9 L362.7 679.2 L379 700 L370.1 702.9Z" fill="#292b2d"/><path d="M344.9 694 L353.8 685.9 L370.1 702.9 L359.7 711.8Z" fill="#575b5f"/><path d="M370.1 702.9 L359.7 711.8 L355.3 719.2 L367.5 710.5Z" fill="#3c3f42"/><path d="M293.6 668.2 L306.6 661.5 L312 661.9 L312 672 L296.9 678.6Z" fill="#3d4043"/><path d="M293.6 668.2 L306.6 661.5 L312 661.9 L312 664.5 L297.7 671.4Z" fill="#4c5054"/><g fill="url(#ckW1)"><use href="#ckFace1" x="0.00" y="-0.00"/><use href="#ckFace1" x="1.04" y="-0.54"/><use href="#ckFace1" x="2.08" y="-1.08"/><use href="#ckFace1" x="3.12" y="-1.62"/><use href="#ckFace1" x="4.16" y="-2.16"/><use href="#ckFace1" x="5.20" y="-2.70"/><use href="#ckFace1" x="6.24" y="-3.24"/><use href="#ckFace1" x="7.28" y="-3.78"/><use href="#ckFace1" x="8.32" y="-4.32"/><use href="#ckFace1" x="9.36" y="-4.86"/><use href="#ckFace1" x="10.40" y="-5.40"/></g><path d="M310.5 646.0C311.2 632.8 310.1 641.7 312.6 638.6C315.1 635.5 315.4 635.6 319.7 634.4C324.0 633.2 324.7 633.2 328.6 634.0C332.5 634.8 331.1 633.1 334.5 637.4C337.9 641.7 338.8 642.8 341.2 650.0C343.6 657.2 343.1 657.3 343.4 664.3C343.7 671.3 341.8 668.3 342.2 676.2C342.6 684.1 340.2 684.5 344.9 694.0C349.6 703.5 356.9 705.1 359.7 711.8C362.5 718.5 358.8 716.3 355.3 719.2C351.8 722.1 351.9 722.1 346.4 722.5C340.9 722.9 340.8 722.8 334.5 720.7C328.2 718.6 328.1 718.7 322.6 714.8C317.1 710.9 317.1 713.0 313.7 705.9C310.3 698.8 310.9 704.1 310.0 688.1C309.1 672.1 309.8 659.2 310.5 646.0Z" fill="#303337"/><path d="M319.7 634.4C322.7 634.3 323.7 633.0 328.6 634.0C333.5 635.0 330.3 632.1 334.5 637.4C338.7 642.7 338.2 641.0 341.2 650.0C344.2 659.0 343.1 655.6 343.4 664.3C343.7 673.0 341.7 666.3 342.2 676.2C342.7 686.1 344.0 688.1 344.9 694.0" fill="none" stroke="#6a6f73" stroke-width="0.8" opacity="0.8"/><path d="M323.1 667.7L299.0 683.0A5.6 9.3 147.7 0 0 308.9 698.7L333.1 683.5A5.6 9.3 147.7 0 0 323.1 667.7Z" fill="url(#ckJ)"/><path d="M308.69 687.86A5.58 9.30 147.72 1 0 299.26 693.82A5.58 9.30 147.72 1 0 308.69 687.86Z" fill="url(#ckJ)"/><path d="M299.0 683.0L291.8 690.2L299.3 702.1L308.9 698.7Z" fill="url(#ckJ)"/><path d="M291.8 690.2L272.7 702.2A4.2 7.0 147.7 0 0 280.3 714.2L299.3 702.1A4.2 7.0 147.7 0 0 291.8 690.2Z" fill="url(#ckSp)"/><path d="M280.08 705.94A4.23 7.05 147.72 1 0 272.92 710.46A4.23 7.05 147.72 1 0 280.08 705.94Z" fill="#1c9ade"/><path d="M292.3 691.1L275.0 702.1 M293.3 692.6L275.9 703.6 M294.2 694.1L276.9 705.0 M295.1 695.6L277.8 706.5 M296.1 697.1L278.8 708.0 M297.0 698.6L279.7 709.5 M298.0 700.1L280.6 711.0 M298.8 701.4L281.5 712.4" stroke="#1f9fe3" stroke-width="0.55" fill="none"/><path d="M274.18 709.78A3.33 6.05 -32.28 1 0 279.82 706.22A3.33 6.05 -32.28 1 0 274.18 709.78Z" fill="#3b3e42"/><path d="M299.4 683.6L301.5 685.9" stroke="#7d8286" stroke-width="1.6" fill="none" stroke-linecap="round" opacity="0.8"/>
<path d="M250.7 75.3L296.6 97.7 M157.3 170.2L243.5 289.2 M552.4 146.0L376.5 304.3 M690.1 242.9L621.8 313.3 M159.2 349.3L245.9 356.3 M200.0 415.8L276.0 385.2 M695.6 425.7L661.7 455.7 M98.2 513.0L159.7 503.8 M636.0 622.5L481.1 592.0 M487.3 645.6L361.4 596.1 M91.7 714.0L115.9 665.4 M230.5 767.4L303.9 726.2" fill="none" stroke="#111" stroke-width="1.15"/>
<path d="M315.0 106.7L295.0 100.9L298.2 94.5Z M255.5 305.8L240.6 291.3L246.4 287.1Z M361.3 318.0L374.1 301.6L378.9 307.0Z M607.5 328.0L619.2 310.8L624.4 315.8Z M266.3 358.0L245.6 359.9L246.2 352.8Z M295.0 377.5L277.3 388.5L274.6 381.8Z M646.3 469.3L659.3 453.0L664.0 458.4Z M180.0 500.8L160.3 507.4L159.2 500.3Z M461.0 588.0L481.8 588.4L480.4 595.5Z M342.3 588.6L362.7 592.8L360.1 599.5Z M125.0 647.0L119.1 667.0L112.7 663.8Z M321.8 716.2L305.7 729.4L302.2 723.1Z" fill="#000"/>
<circle cx="224.1" cy="62.3" r="29.6" fill="none" stroke="#111" stroke-width="1.15"/>
<circle cx="140.3" cy="145.9" r="29.6" fill="none" stroke="#111" stroke-width="1.15"/>
<circle cx="578.8" cy="121.5" r="36" fill="none" stroke="#111" stroke-width="1.15"/>
<circle cx="710.1" cy="221" r="29.7" fill="none" stroke="#111" stroke-width="1.15"/>
<circle cx="123.4" cy="346.1" r="35.9" fill="none" stroke="#111" stroke-width="1.15"/>
<circle cx="166.9" cy="429.5" r="35.8" fill="none" stroke="#111" stroke-width="1.15"/>
<circle cx="717.6" cy="405.9" r="29.6" fill="none" stroke="#111" stroke-width="1.15"/>
<circle cx="68.9" cy="517.3" r="29.6" fill="none" stroke="#111" stroke-width="1.15"/>
<circle cx="665.3" cy="628.2" r="29.8" fill="none" stroke="#111" stroke-width="1.15"/>
<circle cx="514.7" cy="657.2" r="29.8" fill="none" stroke="#111" stroke-width="1.15"/>
<circle cx="79.3" cy="741" r="29.7" fill="none" stroke="#111" stroke-width="1.15"/>
<circle cx="204.8" cy="782.3" r="29.7" fill="none" stroke="#111" stroke-width="1.15"/>
<g class="t">
<text transform="scale(0.6,1)" x="373.50" y="70.70" dy="0.00" font-size="23.05" text-anchor="middle" stroke="#111" stroke-width="0.4">5</text>
<text transform="scale(0.6,1)" x="233.83" y="154.30" dy="0.00" font-size="23.05" text-anchor="middle" stroke="#111" stroke-width="0.4">1</text>
<text transform="scale(0.6,1)" x="953.50 975.83" y="129.90" dy="0.00 0.00" font-size="23.05" text-anchor="middle" stroke="#111" stroke-width="0.4">12</text>
<text transform="scale(0.6,1)" x="1183.50" y="229.40" dy="0.00" font-size="23.05" text-anchor="middle" stroke="#111" stroke-width="0.4">9</text>
<text transform="scale(0.6,1)" x="194.50 216.83" y="354.50" dy="0.00 0.00" font-size="23.05" text-anchor="middle" stroke="#111" stroke-width="0.4">11</text>
<text transform="scale(0.6,1)" x="267.00 289.33" y="437.90" dy="0.00 0.00" font-size="23.05" text-anchor="middle" stroke="#111" stroke-width="0.4">10</text>
<text transform="scale(0.6,1)" x="1196.00" y="414.30" dy="0.00" font-size="23.05" text-anchor="middle" stroke="#111" stroke-width="0.4">2</text>
<text transform="scale(0.6,1)" x="114.83" y="525.70" dy="0.00" font-size="23.05" text-anchor="middle" stroke="#111" stroke-width="0.4">6</text>
<text transform="scale(0.6,1)" x="1108.83" y="636.60" dy="0.00" font-size="23.05" text-anchor="middle" stroke="#111" stroke-width="0.4">8</text>
<text transform="scale(0.6,1)" x="857.83" y="665.60" dy="0.00" font-size="23.05" text-anchor="middle" stroke="#111" stroke-width="0.4">3</text>
<text transform="scale(0.6,1)" x="132.17" y="749.40" dy="0.00" font-size="23.05" text-anchor="middle" stroke="#111" stroke-width="0.4">7</text>
<text transform="scale(0.6,1)" x="341.33" y="790.70" dy="0.00" font-size="23.05" text-anchor="middle" stroke="#111" stroke-width="0.4">4</text>
</g>
</svg>
</body></html>
